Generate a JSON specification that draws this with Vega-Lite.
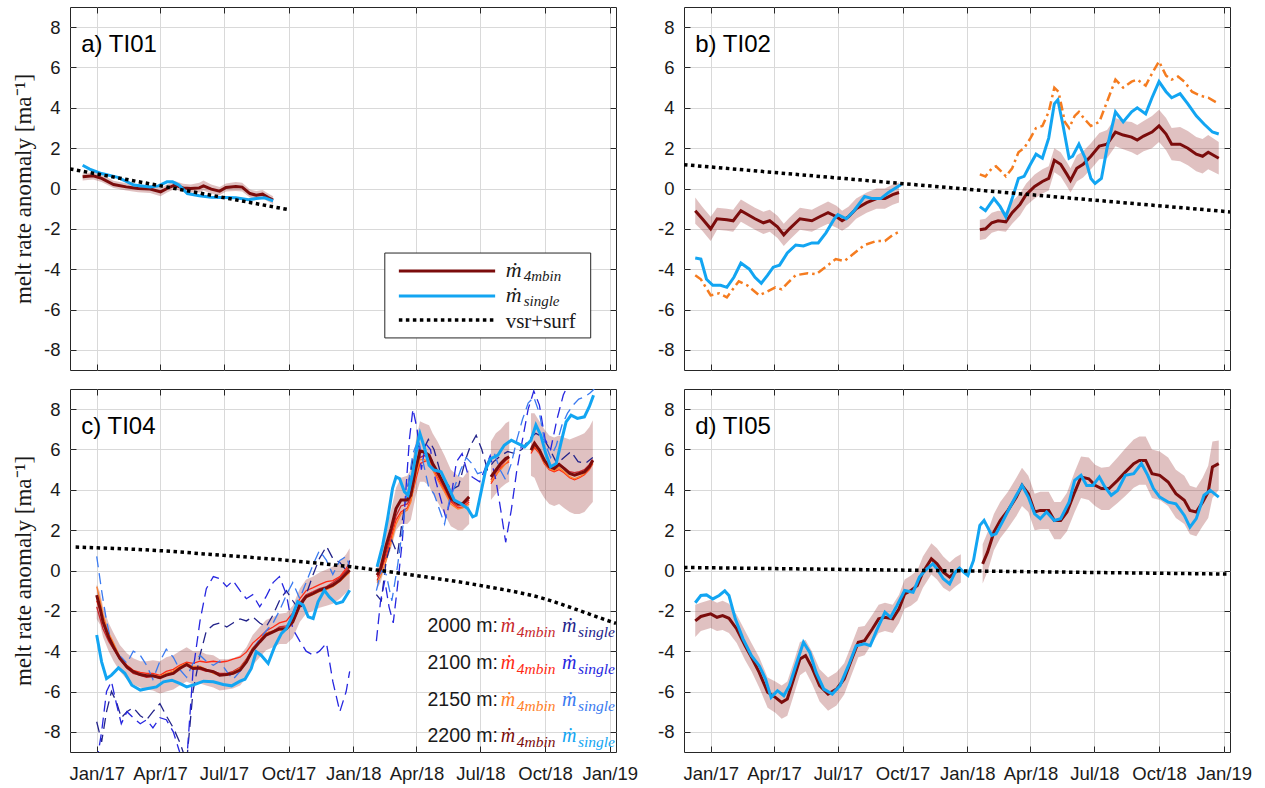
{
"$schema":"https://vega.github.io/schema/vega-lite/v6.json",
"background":"white",
"padding":{"left":12,"top":6,"right":5,"bottom":5},
"autosize":{"type":"pad"},
"config":{"view":{"stroke":"#262626","strokeWidth":1},
"axis":{"gridColor":"#d9d9d9","gridWidth":1,"tickColor":"#262626","labelFont":"Liberation Sans","labelFontSize":18.5,"labelColor":"#1a1a1a","titleColor":"#1a1a1a"}},
"datasets":{
"vsr":[{"p":"a","day":-38,"v":0.97},{"p":"a","day":273,"v":-1.05},{"p":"b","day":-38,"v":1.18},{"p":"b","day":739,"v":-1.16},
{"p":"c","day":-30,"v":1.16},{"p":"c","day":87,"v":0.99},{"p":"c","day":180,"v":0.75},{"p":"c","day":273,"v":0.5},{"p":"c","day":365,"v":0.17},{"p":"c","day":455,"v":-0.25},{"p":"c","day":547,"v":-0.75},{"p":"c","day":638,"v":-1.41},{"p":"c","day":680,"v":-1.9},{"p":"c","day":727,"v":-2.48},{"p":"c","day":739,"v":-2.62},
{"p":"d","day":-38,"v":0.15},{"p":"d","day":739,"v":-0.18}],
"leg":[{"s":"4mbin","v":-4.09,"tv":-4.39,"t":"4mbin"},{"s":"single","v":-5.33,"tv":-5.63,"t":"single"}],
"ann":[{"t":"2000 m:","v":-3.05},{"t":"2100 m:","v":-4.88},{"t":"2150 m:","v":-6.7},{"t":"2200 m:","v":-8.48}],
"anns":[{"s":"t2000","day":575,"v":-3.05,"t":"4mbin"},{"s":"d2000","day":662,"v":-3.05,"t":"single"},
{"s":"t2100","day":575,"v":-4.88,"t":"4mbin"},{"s":"d2100","day":662,"v":-4.88,"t":"single"},
{"s":"t2150","day":575,"v":-6.7,"t":"4mbin"},{"s":"d2150","day":662,"v":-6.7,"t":"single"},
{"s":"4mbin","day":575,"v":-8.48,"t":"4mbin"},{"s":"single","day":662,"v":-8.48,"t":"single"}],
"labels":[{"p":"a","t":"a) TI01"},{"p":"b","t":"b) TI02"},{"p":"c","t":"c) TI04"},{"p":"d","t":"d) TI05"}],
"bands":[
{"p":"a","g":1,"day":-20,"lo":0.4,"hi":0.75},{"p":"a","g":1,"day":-5,"lo":0.45,"hi":0.8},{"p":"a","g":1,"day":7,"lo":0.32,"hi":0.68},{"p":"a","g":1,"day":24,"lo":0.02,"hi":0.38},{"p":"a","g":1,"day":42,"lo":-0.1,"hi":0.26},{"p":"a","g":1,"day":59,"lo":-0.18,"hi":0.18},{"p":"a","g":1,"day":76,"lo":-0.22,"hi":0.16},{"p":"a","g":1,"day":91,"lo":-0.38,"hi":0.04},{"p":"a","g":1,"day":100,"lo":-0.2,"hi":0.2},{"p":"a","g":1,"day":111,"lo":-0.03,"hi":0.37},{"p":"a","g":1,"day":123,"lo":-0.17,"hi":0.23},{"p":"a","g":1,"day":134,"lo":-0.2,"hi":0.2},{"p":"a","g":1,"day":146,"lo":-0.2,"hi":0.28},{"p":"a","g":1,"day":152,"lo":-0.1,"hi":0.4},{"p":"a","g":1,"day":163,"lo":-0.25,"hi":0.2},{"p":"a","g":1,"day":175,"lo":-0.33,"hi":0.07},{"p":"a","g":1,"day":184,"lo":-0.15,"hi":0.25},{"p":"a","g":1,"day":198,"lo":-0.12,"hi":0.32},{"p":"a","g":1,"day":207,"lo":-0.15,"hi":0.29},{"p":"a","g":1,"day":218,"lo":-0.45,"hi":-0.05},{"p":"a","g":1,"day":227,"lo":-0.53,"hi":-0.13},{"p":"a","g":1,"day":236,"lo":-0.48,"hi":-0.08},{"p":"a","g":1,"day":244,"lo":-0.65,"hi":-0.25},{"p":"a","g":1,"day":251,"lo":-0.78,"hi":-0.38},
{"p":"b","g":1,"day":-22,"lo":-1.75,"hi":-0.45},{"p":"b","g":1,"day":-12,"lo":-2.1,"hi":-0.9},{"p":"b","g":1,"day":0,"lo":-2.6,"hi":-1.4},{"p":"b","g":1,"day":9,"lo":-2.05,"hi":-0.95},{"p":"b","g":1,"day":23,"lo":-2.1,"hi":-1.0},{"p":"b","g":1,"day":32,"lo":-2.15,"hi":-1.05},{"p":"b","g":1,"day":43,"lo":-1.65,"hi":-0.55},{"p":"b","g":1,"day":63,"lo":-2.05,"hi":-0.95},{"p":"b","g":1,"day":75,"lo":-2.25,"hi":-1.15},{"p":"b","g":1,"day":84,"lo":-2.15,"hi":-1.05},{"p":"b","g":1,"day":95,"lo":-2.45,"hi":-1.35},{"p":"b","g":1,"day":104,"lo":-2.85,"hi":-1.75},{"p":"b","g":1,"day":112,"lo":-2.55,"hi":-1.45},{"p":"b","g":1,"day":127,"lo":-2.05,"hi":-0.95},{"p":"b","g":1,"day":144,"lo":-2.15,"hi":-1.05},{"p":"b","g":1,"day":155,"lo":-1.95,"hi":-0.85},{"p":"b","g":1,"day":167,"lo":-1.75,"hi":-0.65},{"p":"b","g":1,"day":179,"lo":-1.95,"hi":-0.85},{"p":"b","g":1,"day":187,"lo":-2.1,"hi":-1.1},{"p":"b","g":1,"day":196,"lo":-1.9,"hi":-0.9},{"p":"b","g":1,"day":207,"lo":-1.5,"hi":-0.5},{"p":"b","g":1,"day":222,"lo":-1.2,"hi":-0.2},{"p":"b","g":1,"day":236,"lo":-1.0,"hi":0.0},{"p":"b","g":1,"day":248,"lo":-1.0,"hi":0.0},{"p":"b","g":1,"day":259,"lo":-0.8,"hi":0.2},{"p":"b","g":1,"day":268,"lo":-0.7,"hi":0.3},
{"p":"b","g":2,"day":383,"lo":-2.55,"hi":-1.55},{"p":"b","g":2,"day":391,"lo":-2.5,"hi":-1.5},{"p":"b","g":2,"day":400,"lo":-2.2,"hi":-1.2},{"p":"b","g":2,"day":409,"lo":-2.1,"hi":-1.1},{"p":"b","g":2,"day":420,"lo":-2.15,"hi":-1.15},{"p":"b","g":2,"day":429,"lo":-1.75,"hi":-0.65},{"p":"b","g":2,"day":440,"lo":-1.35,"hi":-0.25},{"p":"b","g":2,"day":449,"lo":-0.85,"hi":0.25},{"p":"b","g":2,"day":461,"lo":-0.5,"hi":0.7},{"p":"b","g":2,"day":472,"lo":-0.25,"hi":0.95},{"p":"b","g":2,"day":481,"lo":-0.1,"hi":1.1},{"p":"b","g":2,"day":489,"lo":0.8,"hi":2.0},{"p":"b","g":2,"day":498,"lo":0.6,"hi":1.8},{"p":"b","g":2,"day":507,"lo":0.1,"hi":1.3},{"p":"b","g":2,"day":512,"lo":-0.2,"hi":1.0},{"p":"b","g":2,"day":521,"lo":0.35,"hi":1.65},{"p":"b","g":2,"day":530,"lo":0.55,"hi":1.85},{"p":"b","g":2,"day":541,"lo":0.95,"hi":2.25},{"p":"b","g":2,"day":553,"lo":1.45,"hi":2.75},{"p":"b","g":2,"day":564,"lo":1.5,"hi":2.9},{"p":"b","g":2,"day":576,"lo":2.1,"hi":3.5},{"p":"b","g":2,"day":587,"lo":1.95,"hi":3.35},{"p":"b","g":2,"day":599,"lo":1.8,"hi":3.3},{"p":"b","g":2,"day":607,"lo":1.65,"hi":3.15},{"p":"b","g":2,"day":616,"lo":1.85,"hi":3.35},{"p":"b","g":2,"day":628,"lo":2.0,"hi":3.6},{"p":"b","g":2,"day":638,"lo":2.3,"hi":3.9},{"p":"b","g":2,"day":648,"lo":1.9,"hi":3.5},{"p":"b","g":2,"day":656,"lo":1.4,"hi":3.0},{"p":"b","g":2,"day":668,"lo":1.35,"hi":3.05},{"p":"b","g":2,"day":679,"lo":1.15,"hi":2.85},{"p":"b","g":2,"day":691,"lo":0.85,"hi":2.55},{"p":"b","g":2,"day":700,"lo":0.75,"hi":2.45},{"p":"b","g":2,"day":708,"lo":0.95,"hi":2.65},{"p":"b","g":2,"day":723,"lo":0.7,"hi":2.3},
{"p":"c","g":1,"day":0,"lo":-2.4,"hi":-0.7},{"p":"c","g":1,"day":5,"lo":-2.7,"hi":-1.1},{"p":"c","g":1,"day":9,"lo":-3.3,"hi":-1.8},{"p":"c","g":1,"day":17,"lo":-4.0,"hi":-2.6},{"p":"c","g":1,"day":24,"lo":-4.5,"hi":-3.1},{"p":"c","g":1,"day":33,"lo":-5.0,"hi":-3.7},{"p":"c","g":1,"day":43,"lo":-5.4,"hi":-4.1},{"p":"c","g":1,"day":52,"lo":-5.65,"hi":-4.35},{"p":"c","g":1,"day":62,"lo":-5.8,"hi":-4.5},{"p":"c","g":1,"day":71,"lo":-5.9,"hi":-4.5},{"p":"c","g":1,"day":80,"lo":-5.95,"hi":-4.45},{"p":"c","g":1,"day":90,"lo":-6.1,"hi":-4.5},{"p":"c","g":1,"day":99,"lo":-6.0,"hi":-4.3},{"p":"c","g":1,"day":109,"lo":-5.9,"hi":-4.2},{"p":"c","g":1,"day":118,"lo":-5.7,"hi":-4.0},{"p":"c","g":1,"day":128,"lo":-5.5,"hi":-3.8},{"p":"c","g":1,"day":137,"lo":-5.65,"hi":-4.0},{"p":"c","g":1,"day":147,"lo":-5.6,"hi":-4.0},{"p":"c","g":1,"day":156,"lo":-5.7,"hi":-4.15},{"p":"c","g":1,"day":166,"lo":-5.8,"hi":-4.2},{"p":"c","g":1,"day":175,"lo":-5.95,"hi":-4.4},{"p":"c","g":1,"day":185,"lo":-5.9,"hi":-4.4},{"p":"c","g":1,"day":194,"lo":-5.85,"hi":-4.35},{"p":"c","g":1,"day":204,"lo":-5.7,"hi":-4.2},{"p":"c","g":1,"day":213,"lo":-5.3,"hi":-3.8},{"p":"c","g":1,"day":222,"lo":-4.7,"hi":-3.2},{"p":"c","g":1,"day":232,"lo":-4.3,"hi":-2.8},{"p":"c","g":1,"day":241,"lo":-3.95,"hi":-2.45},{"p":"c","g":1,"day":251,"lo":-3.8,"hi":-2.3},{"p":"c","g":1,"day":260,"lo":-3.65,"hi":-2.15},{"p":"c","g":1,"day":270,"lo":-3.65,"hi":-2.1},{"p":"c","g":1,"day":279,"lo":-3.35,"hi":-1.75},{"p":"c","g":1,"day":289,"lo":-2.55,"hi":-0.9},{"p":"c","g":1,"day":298,"lo":-2.15,"hi":-0.45},{"p":"c","g":1,"day":308,"lo":-2.0,"hi":-0.3},{"p":"c","g":1,"day":317,"lo":-1.85,"hi":-0.1},{"p":"c","g":1,"day":327,"lo":-1.75,"hi":0.05},{"p":"c","g":1,"day":336,"lo":-1.65,"hi":0.2},{"p":"c","g":1,"day":346,"lo":-1.4,"hi":0.45},{"p":"c","g":1,"day":355,"lo":-1.1,"hi":0.8},{"p":"c","g":1,"day":360,"lo":-0.9,"hi":1.1},
{"p":"c","g":2,"day":399,"lo":-0.9,"hi":0.45},{"p":"c","g":2,"day":404,"lo":-0.6,"hi":0.8},{"p":"c","g":2,"day":412,"lo":0.4,"hi":2.1},{"p":"c","g":2,"day":419,"lo":1.1,"hi":3.0},{"p":"c","g":2,"day":426,"lo":2.0,"hi":4.1},{"p":"c","g":2,"day":433,"lo":2.3,"hi":4.6},{"p":"c","g":2,"day":442,"lo":2.3,"hi":4.7},{"p":"c","g":2,"day":447,"lo":2.5,"hi":5.0},{"p":"c","g":2,"day":454,"lo":3.7,"hi":6.4},{"p":"c","g":2,"day":460,"lo":4.4,"hi":7.4},{"p":"c","g":2,"day":466,"lo":4.4,"hi":7.3},{"p":"c","g":2,"day":473,"lo":4.2,"hi":7.2},{"p":"c","g":2,"day":478,"lo":3.8,"hi":6.8},{"p":"c","g":2,"day":485,"lo":3.4,"hi":6.4},{"p":"c","g":2,"day":495,"lo":2.8,"hi":5.7},{"p":"c","g":2,"day":504,"lo":2.2,"hi":5.0},{"p":"c","g":2,"day":514,"lo":2.0,"hi":4.7},{"p":"c","g":2,"day":521,"lo":2.0,"hi":4.6},{"p":"c","g":2,"day":530,"lo":2.3,"hi":5.0},
{"p":"c","g":3,"day":561,"lo":3.5,"hi":6.4},{"p":"c","g":3,"day":568,"lo":3.8,"hi":6.8},{"p":"c","g":3,"day":575,"lo":4.1,"hi":7.0},{"p":"c","g":3,"day":582,"lo":4.3,"hi":7.3},{"p":"c","g":3,"day":587,"lo":4.4,"hi":7.4},
{"p":"c","g":4,"day":618,"lo":4.7,"hi":7.8},{"p":"c","g":4,"day":623,"lo":4.6,"hi":7.8},{"p":"c","g":4,"day":630,"lo":4.0,"hi":7.4},{"p":"c","g":4,"day":637,"lo":3.6,"hi":7.0},{"p":"c","g":4,"day":644,"lo":3.3,"hi":6.7},{"p":"c","g":4,"day":651,"lo":3.2,"hi":6.6},{"p":"c","g":4,"day":658,"lo":3.3,"hi":6.7},{"p":"c","g":4,"day":665,"lo":3.1,"hi":6.6},{"p":"c","g":4,"day":673,"lo":2.9,"hi":6.5},{"p":"c","g":4,"day":680,"lo":2.8,"hi":6.6},{"p":"c","g":4,"day":687,"lo":2.8,"hi":6.7},{"p":"c","g":4,"day":694,"lo":2.9,"hi":6.8},{"p":"c","g":4,"day":701,"lo":3.2,"hi":7.1},{"p":"c","g":4,"day":706,"lo":3.4,"hi":7.45},
{"p":"d","g":1,"day":-22,"lo":-3.3,"hi":-1.7},{"p":"d","g":1,"day":-14,"lo":-3.0,"hi":-1.6},{"p":"d","g":1,"day":0,"lo":-2.85,"hi":-1.45},{"p":"d","g":1,"day":9,"lo":-3.0,"hi":-1.6},{"p":"d","g":1,"day":17,"lo":-2.95,"hi":-1.5},{"p":"d","g":1,"day":26,"lo":-3.1,"hi":-1.65},{"p":"d","g":1,"day":37,"lo":-3.6,"hi":-2.2},{"p":"d","g":1,"day":49,"lo":-4.45,"hi":-3.0},{"p":"d","g":1,"day":58,"lo":-5.0,"hi":-3.6},{"p":"d","g":1,"day":69,"lo":-5.8,"hi":-4.3},{"p":"d","g":1,"day":81,"lo":-6.8,"hi":-5.3},{"p":"d","g":1,"day":92,"lo":-7.05,"hi":-5.5},{"p":"d","g":1,"day":101,"lo":-7.35,"hi":-5.7},{"p":"d","g":1,"day":109,"lo":-7.2,"hi":-5.5},{"p":"d","g":1,"day":118,"lo":-6.2,"hi":-4.55},{"p":"d","g":1,"day":127,"lo":-5.2,"hi":-3.55},{"p":"d","g":1,"day":135,"lo":-5.0,"hi":-3.45},{"p":"d","g":1,"day":144,"lo":-5.6,"hi":-4.0},{"p":"d","g":1,"day":155,"lo":-6.5,"hi":-4.9},{"p":"d","g":1,"day":167,"lo":-6.95,"hi":-5.3},{"p":"d","g":1,"day":179,"lo":-6.7,"hi":-5.05},{"p":"d","g":1,"day":190,"lo":-6.15,"hi":-4.6},{"p":"d","g":1,"day":199,"lo":-5.3,"hi":-3.8},{"p":"d","g":1,"day":210,"lo":-4.3,"hi":-2.8},{"p":"d","g":1,"day":219,"lo":-4.2,"hi":-2.75},{"p":"d","g":1,"day":230,"lo":-3.6,"hi":-2.2},{"p":"d","g":1,"day":239,"lo":-3.1,"hi":-1.7},{"p":"d","g":1,"day":248,"lo":-3.0,"hi":-1.6},{"p":"d","g":1,"day":259,"lo":-3.1,"hi":-1.7},{"p":"d","g":1,"day":268,"lo":-2.6,"hi":-1.2},{"p":"d","g":1,"day":276,"lo":-1.9,"hi":-0.45},{"p":"d","g":1,"day":285,"lo":-1.75,"hi":-0.25},{"p":"d","g":1,"day":294,"lo":-1.5,"hi":0.0},{"p":"d","g":1,"day":302,"lo":-0.85,"hi":0.7},{"p":"d","g":1,"day":314,"lo":-0.2,"hi":1.35},{"p":"d","g":1,"day":322,"lo":-0.45,"hi":1.1},{"p":"d","g":1,"day":331,"lo":-0.85,"hi":0.7},{"p":"d","g":1,"day":340,"lo":-1.05,"hi":0.4},{"p":"d","g":1,"day":348,"lo":-0.8,"hi":0.65},{"p":"d","g":1,"day":356,"lo":-0.6,"hi":0.8},
{"p":"d","g":2,"day":387,"lo":-0.65,"hi":1.3},{"p":"d","g":2,"day":394,"lo":-0.05,"hi":1.9},{"p":"d","g":2,"day":403,"lo":1.0,"hi":2.8},{"p":"d","g":2,"day":412,"lo":1.6,"hi":3.4},{"p":"d","g":2,"day":423,"lo":2.1,"hi":3.9},{"p":"d","g":2,"day":435,"lo":2.7,"hi":4.6},{"p":"d","g":2,"day":443,"lo":3.2,"hi":5.1},{"p":"d","g":2,"day":452,"lo":2.9,"hi":4.7},{"p":"d","g":2,"day":461,"lo":2.0,"hi":3.8},{"p":"d","g":2,"day":469,"lo":2.05,"hi":3.9},{"p":"d","g":2,"day":481,"lo":2.05,"hi":3.9},{"p":"d","g":2,"day":489,"lo":1.55,"hi":3.4},{"p":"d","g":2,"day":498,"lo":1.55,"hi":3.4},{"p":"d","g":2,"day":507,"lo":1.95,"hi":3.85},{"p":"d","g":2,"day":518,"lo":2.9,"hi":4.9},{"p":"d","g":2,"day":527,"lo":3.6,"hi":5.65},{"p":"d","g":2,"day":538,"lo":3.5,"hi":5.6},{"p":"d","g":2,"day":547,"lo":3.2,"hi":5.25},{"p":"d","g":2,"day":556,"lo":3.0,"hi":5.1},{"p":"d","g":2,"day":567,"lo":3.0,"hi":5.15},{"p":"d","g":2,"day":579,"lo":3.35,"hi":5.6},{"p":"d","g":2,"day":590,"lo":3.7,"hi":6.05},{"p":"d","g":2,"day":602,"lo":4.1,"hi":6.5},{"p":"d","g":2,"day":610,"lo":4.25,"hi":6.65},{"p":"d","g":2,"day":619,"lo":4.25,"hi":6.65},{"p":"d","g":2,"day":628,"lo":3.6,"hi":6.0},{"p":"d","g":2,"day":639,"lo":3.5,"hi":5.9},{"p":"d","g":2,"day":651,"lo":3.2,"hi":5.6},{"p":"d","g":2,"day":662,"lo":2.6,"hi":5.0},{"p":"d","g":2,"day":674,"lo":2.3,"hi":4.7},{"p":"d","g":2,"day":682,"lo":1.8,"hi":4.2},{"p":"d","g":2,"day":691,"lo":1.7,"hi":4.1},{"p":"d","g":2,"day":700,"lo":2.2,"hi":4.6},{"p":"d","g":2,"day":708,"lo":2.6,"hi":5.2},{"p":"d","g":2,"day":714,"lo":3.6,"hi":6.4},{"p":"d","g":2,"day":723,"lo":4.0,"hi":6.45}
],
"lines":[
{"p":"c","s":"t2000","g":1,"day":0,"v":-1.8},{"p":"c","s":"t2000","g":1,"day":9,"v":-2.9},{"p":"c","s":"t2000","g":1,"day":17,"v":-3.5},{"p":"c","s":"t2000","g":1,"day":24,"v":-3.9},{"p":"c","s":"t2000","g":1,"day":33,"v":-4.4},{"p":"c","s":"t2000","g":1,"day":43,"v":-4.85},{"p":"c","s":"t2000","g":1,"day":52,"v":-5.1},{"p":"c","s":"t2000","g":1,"day":62,"v":-5.2},{"p":"c","s":"t2000","g":1,"day":71,"v":-5.3},{"p":"c","s":"t2000","g":1,"day":80,"v":-5.25},{"p":"c","s":"t2000","g":1,"day":90,"v":-5.35},{"p":"c","s":"t2000","g":1,"day":99,"v":-5.15},{"p":"c","s":"t2000","g":1,"day":109,"v":-5.0},{"p":"c","s":"t2000","g":1,"day":118,"v":-4.8},{"p":"c","s":"t2000","g":1,"day":128,"v":-4.7},{"p":"c","s":"t2000","g":1,"day":137,"v":-4.8},{"p":"c","s":"t2000","g":1,"day":147,"v":-4.9},{"p":"c","s":"t2000","g":1,"day":156,"v":-5.0},{"p":"c","s":"t2000","g":1,"day":166,"v":-5.0},{"p":"c","s":"t2000","g":1,"day":175,"v":-5.1},{"p":"c","s":"t2000","g":1,"day":185,"v":-5.1},{"p":"c","s":"t2000","g":1,"day":194,"v":-5.0},{"p":"c","s":"t2000","g":1,"day":204,"v":-4.8},{"p":"c","s":"t2000","g":1,"day":213,"v":-4.4},{"p":"c","s":"t2000","g":1,"day":222,"v":-3.85},{"p":"c","s":"t2000","g":1,"day":232,"v":-3.45},{"p":"c","s":"t2000","g":1,"day":241,"v":-3.1},{"p":"c","s":"t2000","g":1,"day":251,"v":-3.0},{"p":"c","s":"t2000","g":1,"day":260,"v":-2.8},{"p":"c","s":"t2000","g":1,"day":270,"v":-2.75},{"p":"c","s":"t2000","g":1,"day":279,"v":-2.4},{"p":"c","s":"t2000","g":1,"day":289,"v":-1.6},{"p":"c","s":"t2000","g":1,"day":298,"v":-1.2},{"p":"c","s":"t2000","g":1,"day":308,"v":-1.05},{"p":"c","s":"t2000","g":1,"day":317,"v":-0.9},{"p":"c","s":"t2000","g":1,"day":327,"v":-0.8},{"p":"c","s":"t2000","g":1,"day":336,"v":-0.6},{"p":"c","s":"t2000","g":1,"day":346,"v":-0.35},{"p":"c","s":"t2000","g":1,"day":355,"v":0.0},{"p":"c","s":"t2000","g":1,"day":360,"v":0.2},
{"p":"c","s":"t2000","g":2,"day":399,"v":-0.5},{"p":"c","s":"t2000","g":2,"day":404,"v":-0.1},{"p":"c","s":"t2000","g":2,"day":412,"v":0.9},{"p":"c","s":"t2000","g":2,"day":419,"v":1.8},{"p":"c","s":"t2000","g":2,"day":426,"v":2.7},{"p":"c","s":"t2000","g":2,"day":433,"v":3.2},{"p":"c","s":"t2000","g":2,"day":442,"v":3.3},{"p":"c","s":"t2000","g":2,"day":447,"v":3.6},{"p":"c","s":"t2000","g":2,"day":454,"v":4.8},{"p":"c","s":"t2000","g":2,"day":460,"v":5.6},{"p":"c","s":"t2000","g":2,"day":466,"v":5.7},{"p":"c","s":"t2000","g":2,"day":473,"v":5.6},{"p":"c","s":"t2000","g":2,"day":478,"v":5.2},{"p":"c","s":"t2000","g":2,"day":485,"v":4.75},{"p":"c","s":"t2000","g":2,"day":495,"v":4.05},{"p":"c","s":"t2000","g":2,"day":504,"v":3.45},{"p":"c","s":"t2000","g":2,"day":514,"v":3.2},{"p":"c","s":"t2000","g":2,"day":521,"v":3.25},{"p":"c","s":"t2000","g":2,"day":530,"v":3.5},
{"p":"c","s":"t2000","g":3,"day":561,"v":4.5},{"p":"c","s":"t2000","g":3,"day":568,"v":4.85},{"p":"c","s":"t2000","g":3,"day":575,"v":5.2},{"p":"c","s":"t2000","g":3,"day":582,"v":5.45},{"p":"c","s":"t2000","g":3,"day":587,"v":5.6},
{"p":"c","s":"t2000","g":4,"day":618,"v":6.1},{"p":"c","s":"t2000","g":4,"day":623,"v":6.4},{"p":"c","s":"t2000","g":4,"day":630,"v":6.0},{"p":"c","s":"t2000","g":4,"day":637,"v":5.5},{"p":"c","s":"t2000","g":4,"day":644,"v":5.2},{"p":"c","s":"t2000","g":4,"day":651,"v":5.1},{"p":"c","s":"t2000","g":4,"day":658,"v":5.3},{"p":"c","s":"t2000","g":4,"day":665,"v":5.1},{"p":"c","s":"t2000","g":4,"day":673,"v":4.9},{"p":"c","s":"t2000","g":4,"day":680,"v":4.85},{"p":"c","s":"t2000","g":4,"day":687,"v":4.9},{"p":"c","s":"t2000","g":4,"day":694,"v":5.0},{"p":"c","s":"t2000","g":4,"day":701,"v":5.25},{"p":"c","s":"t2000","g":4,"day":706,"v":5.5},
{"p":"c","s":"t2100","g":1,"day":0,"v":-1.5},{"p":"c","s":"t2100","g":1,"day":9,"v":-2.4},{"p":"c","s":"t2100","g":1,"day":17,"v":-3.2},{"p":"c","s":"t2100","g":1,"day":24,"v":-3.7},{"p":"c","s":"t2100","g":1,"day":33,"v":-4.3},{"p":"c","s":"t2100","g":1,"day":43,"v":-4.7},{"p":"c","s":"t2100","g":1,"day":52,"v":-4.95},{"p":"c","s":"t2100","g":1,"day":62,"v":-5.05},{"p":"c","s":"t2100","g":1,"day":71,"v":-5.1},{"p":"c","s":"t2100","g":1,"day":80,"v":-5.1},{"p":"c","s":"t2100","g":1,"day":90,"v":-5.2},{"p":"c","s":"t2100","g":1,"day":99,"v":-5.0},{"p":"c","s":"t2100","g":1,"day":109,"v":-4.9},{"p":"c","s":"t2100","g":1,"day":118,"v":-4.7},{"p":"c","s":"t2100","g":1,"day":128,"v":-4.55},{"p":"c","s":"t2100","g":1,"day":137,"v":-4.6},{"p":"c","s":"t2100","g":1,"day":147,"v":-4.5},{"p":"c","s":"t2100","g":1,"day":156,"v":-4.55},{"p":"c","s":"t2100","g":1,"day":166,"v":-4.5},{"p":"c","s":"t2100","g":1,"day":175,"v":-4.55},{"p":"c","s":"t2100","g":1,"day":185,"v":-4.5},{"p":"c","s":"t2100","g":1,"day":194,"v":-4.4},{"p":"c","s":"t2100","g":1,"day":204,"v":-4.3},{"p":"c","s":"t2100","g":1,"day":213,"v":-4.05},{"p":"c","s":"t2100","g":1,"day":222,"v":-3.6},{"p":"c","s":"t2100","g":1,"day":232,"v":-3.3},{"p":"c","s":"t2100","g":1,"day":241,"v":-3.0},{"p":"c","s":"t2100","g":1,"day":251,"v":-2.8},{"p":"c","s":"t2100","g":1,"day":260,"v":-2.6},{"p":"c","s":"t2100","g":1,"day":270,"v":-2.5},{"p":"c","s":"t2100","g":1,"day":279,"v":-2.1},{"p":"c","s":"t2100","g":1,"day":289,"v":-1.4},{"p":"c","s":"t2100","g":1,"day":298,"v":-1.0},{"p":"c","s":"t2100","g":1,"day":308,"v":-0.85},{"p":"c","s":"t2100","g":1,"day":317,"v":-0.7},{"p":"c","s":"t2100","g":1,"day":327,"v":-0.55},{"p":"c","s":"t2100","g":1,"day":336,"v":-0.5},{"p":"c","s":"t2100","g":1,"day":346,"v":-0.3},{"p":"c","s":"t2100","g":1,"day":355,"v":0.1},{"p":"c","s":"t2100","g":1,"day":360,"v":0.4},
{"p":"c","s":"t2100","g":2,"day":399,"v":-0.3},{"p":"c","s":"t2100","g":2,"day":404,"v":0.0},{"p":"c","s":"t2100","g":2,"day":412,"v":0.7},{"p":"c","s":"t2100","g":2,"day":419,"v":1.6},{"p":"c","s":"t2100","g":2,"day":426,"v":2.5},{"p":"c","s":"t2100","g":2,"day":433,"v":2.9},{"p":"c","s":"t2100","g":2,"day":442,"v":3.1},{"p":"c","s":"t2100","g":2,"day":447,"v":3.5},{"p":"c","s":"t2100","g":2,"day":454,"v":4.5},{"p":"c","s":"t2100","g":2,"day":460,"v":5.3},{"p":"c","s":"t2100","g":2,"day":466,"v":5.4},{"p":"c","s":"t2100","g":2,"day":473,"v":5.5},{"p":"c","s":"t2100","g":2,"day":478,"v":5.1},{"p":"c","s":"t2100","g":2,"day":485,"v":4.6},{"p":"c","s":"t2100","g":2,"day":495,"v":3.95},{"p":"c","s":"t2100","g":2,"day":504,"v":3.4},{"p":"c","s":"t2100","g":2,"day":514,"v":3.1},{"p":"c","s":"t2100","g":2,"day":521,"v":3.15},{"p":"c","s":"t2100","g":2,"day":530,"v":3.4},
{"p":"c","s":"t2100","g":3,"day":561,"v":4.3},{"p":"c","s":"t2100","g":3,"day":568,"v":4.7},{"p":"c","s":"t2100","g":3,"day":575,"v":5.1},{"p":"c","s":"t2100","g":3,"day":582,"v":5.3},{"p":"c","s":"t2100","g":3,"day":587,"v":5.4},
{"p":"c","s":"t2100","g":4,"day":618,"v":5.8},{"p":"c","s":"t2100","g":4,"day":623,"v":6.1},{"p":"c","s":"t2100","g":4,"day":630,"v":5.8},{"p":"c","s":"t2100","g":4,"day":637,"v":5.3},{"p":"c","s":"t2100","g":4,"day":644,"v":5.0},{"p":"c","s":"t2100","g":4,"day":651,"v":4.9},{"p":"c","s":"t2100","g":4,"day":658,"v":5.0},{"p":"c","s":"t2100","g":4,"day":665,"v":4.85},{"p":"c","s":"t2100","g":4,"day":673,"v":4.6},{"p":"c","s":"t2100","g":4,"day":680,"v":4.5},{"p":"c","s":"t2100","g":4,"day":687,"v":4.6},{"p":"c","s":"t2100","g":4,"day":694,"v":4.75},{"p":"c","s":"t2100","g":4,"day":701,"v":5.0},{"p":"c","s":"t2100","g":4,"day":706,"v":5.3},
{"p":"c","s":"t2150","g":1,"day":0,"v":-0.8},{"p":"c","s":"t2150","g":1,"day":5,"v":-1.5},{"p":"c","s":"t2150","g":1,"day":9,"v":-2.2},{"p":"c","s":"t2150","g":1,"day":17,"v":-3.1},{"p":"c","s":"t2150","g":1,"day":24,"v":-3.6},{"p":"c","s":"t2150","g":1,"day":33,"v":-4.3},{"p":"c","s":"t2150","g":1,"day":43,"v":-4.75},{"p":"c","s":"t2150","g":1,"day":52,"v":-5.0},{"p":"c","s":"t2150","g":1,"day":62,"v":-5.15},{"p":"c","s":"t2150","g":1,"day":71,"v":-5.2},{"p":"c","s":"t2150","g":1,"day":80,"v":-5.2},{"p":"c","s":"t2150","g":1,"day":90,"v":-5.25},{"p":"c","s":"t2150","g":1,"day":99,"v":-5.1},{"p":"c","s":"t2150","g":1,"day":109,"v":-5.0},{"p":"c","s":"t2150","g":1,"day":118,"v":-4.75},{"p":"c","s":"t2150","g":1,"day":128,"v":-4.6},{"p":"c","s":"t2150","g":1,"day":137,"v":-4.75},{"p":"c","s":"t2150","g":1,"day":147,"v":-4.75},{"p":"c","s":"t2150","g":1,"day":156,"v":-4.9},{"p":"c","s":"t2150","g":1,"day":166,"v":-5.1},{"p":"c","s":"t2150","g":1,"day":175,"v":-5.2},{"p":"c","s":"t2150","g":1,"day":185,"v":-5.2},{"p":"c","s":"t2150","g":1,"day":194,"v":-5.05},{"p":"c","s":"t2150","g":1,"day":204,"v":-4.85},{"p":"c","s":"t2150","g":1,"day":213,"v":-4.45},{"p":"c","s":"t2150","g":1,"day":222,"v":-3.85},{"p":"c","s":"t2150","g":1,"day":232,"v":-3.5},{"p":"c","s":"t2150","g":1,"day":241,"v":-3.1},{"p":"c","s":"t2150","g":1,"day":251,"v":-3.0},{"p":"c","s":"t2150","g":1,"day":260,"v":-2.95},{"p":"c","s":"t2150","g":1,"day":270,"v":-2.95},{"p":"c","s":"t2150","g":1,"day":279,"v":-2.6},{"p":"c","s":"t2150","g":1,"day":289,"v":-1.8},{"p":"c","s":"t2150","g":1,"day":298,"v":-1.35},{"p":"c","s":"t2150","g":1,"day":308,"v":-1.2},{"p":"c","s":"t2150","g":1,"day":317,"v":-1.05},{"p":"c","s":"t2150","g":1,"day":327,"v":-0.95},{"p":"c","s":"t2150","g":1,"day":336,"v":-0.8},{"p":"c","s":"t2150","g":1,"day":346,"v":-0.55},{"p":"c","s":"t2150","g":1,"day":355,"v":-0.25},{"p":"c","s":"t2150","g":1,"day":360,"v":-0.1},
{"p":"c","s":"t2150","g":2,"day":399,"v":-0.6},{"p":"c","s":"t2150","g":2,"day":404,"v":-0.3},{"p":"c","s":"t2150","g":2,"day":412,"v":0.5},{"p":"c","s":"t2150","g":2,"day":419,"v":1.4},{"p":"c","s":"t2150","g":2,"day":426,"v":2.3},{"p":"c","s":"t2150","g":2,"day":433,"v":2.8},{"p":"c","s":"t2150","g":2,"day":442,"v":3.0},{"p":"c","s":"t2150","g":2,"day":447,"v":3.4},{"p":"c","s":"t2150","g":2,"day":454,"v":4.7},{"p":"c","s":"t2150","g":2,"day":460,"v":5.5},{"p":"c","s":"t2150","g":2,"day":466,"v":5.5},{"p":"c","s":"t2150","g":2,"day":473,"v":5.4},{"p":"c","s":"t2150","g":2,"day":478,"v":5.0},{"p":"c","s":"t2150","g":2,"day":485,"v":4.5},{"p":"c","s":"t2150","g":2,"day":495,"v":3.9},{"p":"c","s":"t2150","g":2,"day":504,"v":3.3},{"p":"c","s":"t2150","g":2,"day":514,"v":3.05},{"p":"c","s":"t2150","g":2,"day":521,"v":3.1},{"p":"c","s":"t2150","g":2,"day":530,"v":3.3},
{"p":"c","s":"t2150","g":3,"day":561,"v":4.4},{"p":"c","s":"t2150","g":3,"day":568,"v":4.75},{"p":"c","s":"t2150","g":3,"day":575,"v":5.0},{"p":"c","s":"t2150","g":3,"day":582,"v":5.3},{"p":"c","s":"t2150","g":3,"day":587,"v":5.5},
{"p":"c","s":"t2150","g":4,"day":618,"v":5.9},{"p":"c","s":"t2150","g":4,"day":623,"v":6.2},{"p":"c","s":"t2150","g":4,"day":630,"v":5.85},{"p":"c","s":"t2150","g":4,"day":637,"v":5.35},{"p":"c","s":"t2150","g":4,"day":644,"v":5.05},{"p":"c","s":"t2150","g":4,"day":651,"v":4.95},{"p":"c","s":"t2150","g":4,"day":658,"v":5.1},{"p":"c","s":"t2150","g":4,"day":665,"v":4.9},{"p":"c","s":"t2150","g":4,"day":673,"v":4.65},{"p":"c","s":"t2150","g":4,"day":680,"v":4.55},{"p":"c","s":"t2150","g":4,"day":687,"v":4.65},{"p":"c","s":"t2150","g":4,"day":694,"v":4.8},{"p":"c","s":"t2150","g":4,"day":701,"v":5.05},{"p":"c","s":"t2150","g":4,"day":706,"v":5.35},
{"p":"c","s":"d2000","g":1,"day":0,"v":-7.5},{"p":"c","s":"d2000","g":1,"day":7,"v":-8.5},{"p":"c","s":"d2000","g":1,"day":14,"v":-7.0},{"p":"c","s":"d2000","g":1,"day":21,"v":-6.0},{"p":"c","s":"d2000","g":1,"day":28,"v":-6.5},{"p":"c","s":"d2000","g":1,"day":35,"v":-7.3},{"p":"c","s":"d2000","g":1,"day":43,"v":-7.0},{"p":"c","s":"d2000","g":1,"day":52,"v":-6.8},{"p":"c","s":"d2000","g":1,"day":62,"v":-7.2},{"p":"c","s":"d2000","g":1,"day":71,"v":-7.4},{"p":"c","s":"d2000","g":1,"day":80,"v":-7.0},{"p":"c","s":"d2000","g":1,"day":90,"v":-6.6},{"p":"c","s":"d2000","g":1,"day":99,"v":-7.2},{"p":"c","s":"d2000","g":1,"day":109,"v":-7.8},{"p":"c","s":"d2000","g":1,"day":118,"v":-8.5},{"p":"c","s":"d2000","g":1,"day":128,"v":-9.5},{"p":"c","s":"d2000","g":1,"day":137,"v":-6.0},{"p":"c","s":"d2000","g":1,"day":147,"v":-4.2},{"p":"c","s":"d2000","g":1,"day":156,"v":-3.0},{"p":"c","s":"d2000","g":1,"day":166,"v":-2.7},{"p":"c","s":"d2000","g":1,"day":175,"v":-2.6},{"p":"c","s":"d2000","g":1,"day":185,"v":-2.8},{"p":"c","s":"d2000","g":1,"day":194,"v":-2.6},{"p":"c","s":"d2000","g":1,"day":204,"v":-2.4},{"p":"c","s":"d2000","g":1,"day":213,"v":-2.5},{"p":"c","s":"d2000","g":1,"day":222,"v":-2.3},{"p":"c","s":"d2000","g":1,"day":232,"v":-2.6},{"p":"c","s":"d2000","g":1,"day":241,"v":-2.8},{"p":"c","s":"d2000","g":1,"day":251,"v":-2.2},{"p":"c","s":"d2000","g":1,"day":260,"v":-1.5},{"p":"c","s":"d2000","g":1,"day":270,"v":-1.0},{"p":"c","s":"d2000","g":1,"day":279,"v":-1.5},{"p":"c","s":"d2000","g":1,"day":289,"v":-2.0},{"p":"c","s":"d2000","g":1,"day":298,"v":-1.2},{"p":"c","s":"d2000","g":1,"day":308,"v":-0.2},{"p":"c","s":"d2000","g":1,"day":317,"v":0.6},{"p":"c","s":"d2000","g":1,"day":327,"v":1.2},{"p":"c","s":"d2000","g":1,"day":336,"v":0.6},{"p":"c","s":"d2000","g":1,"day":346,"v":0.4},{"p":"c","s":"d2000","g":1,"day":355,"v":0.0},{"p":"c","s":"d2000","g":1,"day":360,"v":0.5},
{"p":"c","s":"d2000","g":2,"day":398,"v":-1.2},{"p":"c","s":"d2000","g":2,"day":405,"v":-1.5},{"p":"c","s":"d2000","g":2,"day":412,"v":0.5},{"p":"c","s":"d2000","g":2,"day":420,"v":1.5},{"p":"c","s":"d2000","g":2,"day":428,"v":0.8},{"p":"c","s":"d2000","g":2,"day":435,"v":2.5},{"p":"c","s":"d2000","g":2,"day":442,"v":4.0},{"p":"c","s":"d2000","g":2,"day":450,"v":5.5},{"p":"c","s":"d2000","g":2,"day":457,"v":6.2},{"p":"c","s":"d2000","g":2,"day":465,"v":6.0},{"p":"c","s":"d2000","g":2,"day":472,"v":6.5},{"p":"c","s":"d2000","g":2,"day":480,"v":6.0},{"p":"c","s":"d2000","g":2,"day":488,"v":5.0},{"p":"c","s":"d2000","g":2,"day":495,"v":4.5},{"p":"c","s":"d2000","g":2,"day":505,"v":4.0},{"p":"c","s":"d2000","g":2,"day":515,"v":4.2},{"p":"c","s":"d2000","g":2,"day":525,"v":5.5},{"p":"c","s":"d2000","g":2,"day":532,"v":6.2},{"p":"c","s":"d2000","g":2,"day":540,"v":6.7},{"p":"c","s":"d2000","g":2,"day":548,"v":6.0},{"p":"c","s":"d2000","g":2,"day":556,"v":5.0},{"p":"c","s":"d2000","g":2,"day":565,"v":5.4},{"p":"c","s":"d2000","g":2,"day":575,"v":5.7},{"p":"c","s":"d2000","g":2,"day":585,"v":5.9},{"p":"c","s":"d2000","g":2,"day":595,"v":5.8},{"p":"c","s":"d2000","g":2,"day":605,"v":6.0},{"p":"c","s":"d2000","g":2,"day":615,"v":6.5},{"p":"c","s":"d2000","g":2,"day":625,"v":6.8},{"p":"c","s":"d2000","g":2,"day":635,"v":6.6},{"p":"c","s":"d2000","g":2,"day":645,"v":6.0},{"p":"c","s":"d2000","g":2,"day":655,"v":5.3},{"p":"c","s":"d2000","g":2,"day":665,"v":5.6},{"p":"c","s":"d2000","g":2,"day":675,"v":5.9},{"p":"c","s":"d2000","g":2,"day":685,"v":5.4},{"p":"c","s":"d2000","g":2,"day":695,"v":5.3},{"p":"c","s":"d2000","g":2,"day":706,"v":5.6},
{"p":"c","s":"d2100","g":1,"day":0,"v":-9.5},{"p":"c","s":"d2100","g":1,"day":7,"v":-8.0},{"p":"c","s":"d2100","g":1,"day":14,"v":-6.0},{"p":"c","s":"d2100","g":1,"day":21,"v":-5.5},{"p":"c","s":"d2100","g":1,"day":28,"v":-6.6},{"p":"c","s":"d2100","g":1,"day":35,"v":-7.6},{"p":"c","s":"d2100","g":1,"day":43,"v":-7.0},{"p":"c","s":"d2100","g":1,"day":52,"v":-7.3},{"p":"c","s":"d2100","g":1,"day":62,"v":-7.6},{"p":"c","s":"d2100","g":1,"day":71,"v":-7.4},{"p":"c","s":"d2100","g":1,"day":80,"v":-7.8},{"p":"c","s":"d2100","g":1,"day":90,"v":-7.3},{"p":"c","s":"d2100","g":1,"day":99,"v":-7.4},{"p":"c","s":"d2100","g":1,"day":109,"v":-8.0},{"p":"c","s":"d2100","g":1,"day":118,"v":-9.0},{"p":"c","s":"d2100","g":1,"day":128,"v":-9.5},{"p":"c","s":"d2100","g":1,"day":137,"v":-5.0},{"p":"c","s":"d2100","g":1,"day":147,"v":-2.5},{"p":"c","s":"d2100","g":1,"day":156,"v":-0.9},{"p":"c","s":"d2100","g":1,"day":166,"v":-0.3},{"p":"c","s":"d2100","g":1,"day":175,"v":-0.4},{"p":"c","s":"d2100","g":1,"day":185,"v":-0.8},{"p":"c","s":"d2100","g":1,"day":194,"v":-0.5},{"p":"c","s":"d2100","g":1,"day":204,"v":-1.0},{"p":"c","s":"d2100","g":1,"day":213,"v":-1.4},{"p":"c","s":"d2100","g":1,"day":222,"v":-1.2},{"p":"c","s":"d2100","g":1,"day":232,"v":-1.8},{"p":"c","s":"d2100","g":1,"day":241,"v":-1.3},{"p":"c","s":"d2100","g":1,"day":251,"v":-0.6},{"p":"c","s":"d2100","g":1,"day":260,"v":-0.3},{"p":"c","s":"d2100","g":1,"day":270,"v":-1.2},{"p":"c","s":"d2100","g":1,"day":279,"v":-2.9},{"p":"c","s":"d2100","g":1,"day":289,"v":-3.5},{"p":"c","s":"d2100","g":1,"day":298,"v":-4.0},{"p":"c","s":"d2100","g":1,"day":308,"v":-4.2},{"p":"c","s":"d2100","g":1,"day":317,"v":-4.0},{"p":"c","s":"d2100","g":1,"day":327,"v":-3.6},{"p":"c","s":"d2100","g":1,"day":336,"v":-5.5},{"p":"c","s":"d2100","g":1,"day":346,"v":-7.0},{"p":"c","s":"d2100","g":1,"day":355,"v":-6.0},{"p":"c","s":"d2100","g":1,"day":360,"v":-5.0},
{"p":"c","s":"d2100","g":2,"day":398,"v":-3.5},{"p":"c","s":"d2100","g":2,"day":404,"v":-1.5},{"p":"c","s":"d2100","g":2,"day":410,"v":-0.5},{"p":"c","s":"d2100","g":2,"day":416,"v":-1.8},{"p":"c","s":"d2100","g":2,"day":422,"v":-2.6},{"p":"c","s":"d2100","g":2,"day":428,"v":-0.8},{"p":"c","s":"d2100","g":2,"day":435,"v":1.5},{"p":"c","s":"d2100","g":2,"day":440,"v":4.0},{"p":"c","s":"d2100","g":2,"day":445,"v":6.5},{"p":"c","s":"d2100","g":2,"day":450,"v":8.0},{"p":"c","s":"d2100","g":2,"day":456,"v":7.0},{"p":"c","s":"d2100","g":2,"day":462,"v":5.0},{"p":"c","s":"d2100","g":2,"day":468,"v":6.3},{"p":"c","s":"d2100","g":2,"day":475,"v":6.0},{"p":"c","s":"d2100","g":2,"day":482,"v":4.5},{"p":"c","s":"d2100","g":2,"day":490,"v":3.5},{"p":"c","s":"d2100","g":2,"day":497,"v":2.6},{"p":"c","s":"d2100","g":2,"day":505,"v":3.8},{"p":"c","s":"d2100","g":2,"day":512,"v":5.4},{"p":"c","s":"d2100","g":2,"day":520,"v":5.8},{"p":"c","s":"d2100","g":2,"day":528,"v":4.8},{"p":"c","s":"d2100","g":2,"day":536,"v":4.6},{"p":"c","s":"d2100","g":2,"day":545,"v":4.4},{"p":"c","s":"d2100","g":2,"day":552,"v":5.0},{"p":"c","s":"d2100","g":2,"day":560,"v":5.7},{"p":"c","s":"d2100","g":2,"day":568,"v":4.5},{"p":"c","s":"d2100","g":2,"day":575,"v":3.0},{"p":"c","s":"d2100","g":2,"day":582,"v":1.4},{"p":"c","s":"d2100","g":2,"day":590,"v":3.0},{"p":"c","s":"d2100","g":2,"day":598,"v":5.0},{"p":"c","s":"d2100","g":2,"day":606,"v":6.5},{"p":"c","s":"d2100","g":2,"day":614,"v":8.0},{"p":"c","s":"d2100","g":2,"day":622,"v":8.9},{"p":"c","s":"d2100","g":2,"day":630,"v":8.2},{"p":"c","s":"d2100","g":2,"day":638,"v":6.5},{"p":"c","s":"d2100","g":2,"day":646,"v":6.0},{"p":"c","s":"d2100","g":2,"day":655,"v":7.5},{"p":"c","s":"d2100","g":2,"day":664,"v":8.7},{"p":"c","s":"d2100","g":2,"day":672,"v":9.3},{"p":"c","s":"d2100","g":2,"day":680,"v":9.6},
{"p":"c","s":"d2150","g":1,"day":0,"v":0.7},{"p":"c","s":"d2150","g":1,"day":7,"v":-1.0},{"p":"c","s":"d2150","g":1,"day":14,"v":-2.5},{"p":"c","s":"d2150","g":1,"day":21,"v":-3.6},{"p":"c","s":"d2150","g":1,"day":28,"v":-4.1},{"p":"c","s":"d2150","g":1,"day":35,"v":-4.3},{"p":"c","s":"d2150","g":1,"day":43,"v":-4.6},{"p":"c","s":"d2150","g":1,"day":52,"v":-4.0},{"p":"c","s":"d2150","g":1,"day":62,"v":-4.2},{"p":"c","s":"d2150","g":1,"day":71,"v":-4.7},{"p":"c","s":"d2150","g":1,"day":80,"v":-5.4},{"p":"c","s":"d2150","g":1,"day":90,"v":-4.5},{"p":"c","s":"d2150","g":1,"day":99,"v":-3.9},{"p":"c","s":"d2150","g":1,"day":109,"v":-4.3},{"p":"c","s":"d2150","g":1,"day":118,"v":-4.9},{"p":"c","s":"d2150","g":1,"day":128,"v":-5.3},{"p":"c","s":"d2150","g":1,"day":137,"v":-4.6},{"p":"c","s":"d2150","g":1,"day":147,"v":-4.2},{"p":"c","s":"d2150","g":1,"day":156,"v":-4.5},{"p":"c","s":"d2150","g":1,"day":166,"v":-4.7},{"p":"c","s":"d2150","g":1,"day":175,"v":-4.5},{"p":"c","s":"d2150","g":1,"day":185,"v":-5.0},{"p":"c","s":"d2150","g":1,"day":194,"v":-5.4},{"p":"c","s":"d2150","g":1,"day":204,"v":-5.0},{"p":"c","s":"d2150","g":1,"day":213,"v":-4.5},{"p":"c","s":"d2150","g":1,"day":222,"v":-3.9},{"p":"c","s":"d2150","g":1,"day":232,"v":-3.4},{"p":"c","s":"d2150","g":1,"day":241,"v":-3.0},{"p":"c","s":"d2150","g":1,"day":251,"v":-2.6},{"p":"c","s":"d2150","g":1,"day":260,"v":-2.0},{"p":"c","s":"d2150","g":1,"day":270,"v":-1.2},{"p":"c","s":"d2150","g":1,"day":279,"v":-0.6},{"p":"c","s":"d2150","g":1,"day":289,"v":-1.4},{"p":"c","s":"d2150","g":1,"day":298,"v":-0.6},{"p":"c","s":"d2150","g":1,"day":308,"v":0.3},{"p":"c","s":"d2150","g":1,"day":317,"v":1.0},{"p":"c","s":"d2150","g":1,"day":327,"v":0.5},{"p":"c","s":"d2150","g":1,"day":336,"v":-0.2},{"p":"c","s":"d2150","g":1,"day":346,"v":0.5},{"p":"c","s":"d2150","g":1,"day":355,"v":0.7},{"p":"c","s":"d2150","g":1,"day":360,"v":0.2},
{"p":"c","s":"d2150","g":2,"day":398,"v":-1.0},{"p":"c","s":"d2150","g":2,"day":405,"v":0.0},{"p":"c","s":"d2150","g":2,"day":412,"v":-0.2},{"p":"c","s":"d2150","g":2,"day":420,"v":-1.5},{"p":"c","s":"d2150","g":2,"day":428,"v":0.2},{"p":"c","s":"d2150","g":2,"day":435,"v":2.0},{"p":"c","s":"d2150","g":2,"day":442,"v":4.0},{"p":"c","s":"d2150","g":2,"day":450,"v":5.8},{"p":"c","s":"d2150","g":2,"day":458,"v":6.5},{"p":"c","s":"d2150","g":2,"day":465,"v":5.3},{"p":"c","s":"d2150","g":2,"day":472,"v":4.2},{"p":"c","s":"d2150","g":2,"day":480,"v":3.8},{"p":"c","s":"d2150","g":2,"day":488,"v":3.0},{"p":"c","s":"d2150","g":2,"day":495,"v":2.3},{"p":"c","s":"d2150","g":2,"day":502,"v":3.5},{"p":"c","s":"d2150","g":2,"day":510,"v":4.2},{"p":"c","s":"d2150","g":2,"day":518,"v":5.0},{"p":"c","s":"d2150","g":2,"day":526,"v":5.6},{"p":"c","s":"d2150","g":2,"day":534,"v":5.3},{"p":"c","s":"d2150","g":2,"day":542,"v":4.8},{"p":"c","s":"d2150","g":2,"day":550,"v":4.9},{"p":"c","s":"d2150","g":2,"day":558,"v":5.5},{"p":"c","s":"d2150","g":2,"day":566,"v":5.8},{"p":"c","s":"d2150","g":2,"day":574,"v":5.0},{"p":"c","s":"d2150","g":2,"day":582,"v":4.5},{"p":"c","s":"d2150","g":2,"day":590,"v":5.3},{"p":"c","s":"d2150","g":2,"day":598,"v":6.5},{"p":"c","s":"d2150","g":2,"day":606,"v":7.5},{"p":"c","s":"d2150","g":2,"day":614,"v":8.3},{"p":"c","s":"d2150","g":2,"day":622,"v":8.6},{"p":"c","s":"d2150","g":2,"day":630,"v":7.8},{"p":"c","s":"d2150","g":2,"day":638,"v":6.3},{"p":"c","s":"d2150","g":2,"day":646,"v":5.6},{"p":"c","s":"d2150","g":2,"day":654,"v":6.2},{"p":"c","s":"d2150","g":2,"day":662,"v":7.2},{"p":"c","s":"d2150","g":2,"day":670,"v":7.8},{"p":"c","s":"d2150","g":2,"day":678,"v":8.2},{"p":"c","s":"d2150","g":2,"day":686,"v":8.5},{"p":"c","s":"d2150","g":2,"day":694,"v":8.6},{"p":"c","s":"d2150","g":2,"day":702,"v":8.8},{"p":"c","s":"d2150","g":2,"day":708,"v":9.0},
{"p":"a","s":"4mbin","g":1,"day":-20,"v":0.58},{"p":"a","s":"4mbin","g":1,"day":-5,"v":0.63},{"p":"a","s":"4mbin","g":1,"day":7,"v":0.5},{"p":"a","s":"4mbin","g":1,"day":24,"v":0.2},{"p":"a","s":"4mbin","g":1,"day":42,"v":0.08},{"p":"a","s":"4mbin","g":1,"day":59,"v":0.0},{"p":"a","s":"4mbin","g":1,"day":76,"v":-0.03},{"p":"a","s":"4mbin","g":1,"day":91,"v":-0.17},{"p":"a","s":"4mbin","g":1,"day":100,"v":0.0},{"p":"a","s":"4mbin","g":1,"day":111,"v":0.17},{"p":"a","s":"4mbin","g":1,"day":123,"v":0.03},{"p":"a","s":"4mbin","g":1,"day":134,"v":0.0},{"p":"a","s":"4mbin","g":1,"day":146,"v":0.03},{"p":"a","s":"4mbin","g":1,"day":152,"v":0.13},{"p":"a","s":"4mbin","g":1,"day":163,"v":-0.03},{"p":"a","s":"4mbin","g":1,"day":175,"v":-0.13},{"p":"a","s":"4mbin","g":1,"day":184,"v":0.05},{"p":"a","s":"4mbin","g":1,"day":198,"v":0.1},{"p":"a","s":"4mbin","g":1,"day":207,"v":0.07},{"p":"a","s":"4mbin","g":1,"day":218,"v":-0.25},{"p":"a","s":"4mbin","g":1,"day":227,"v":-0.33},{"p":"a","s":"4mbin","g":1,"day":236,"v":-0.28},{"p":"a","s":"4mbin","g":1,"day":244,"v":-0.45},{"p":"a","s":"4mbin","g":1,"day":251,"v":-0.58},
{"p":"a","s":"single","g":1,"day":-20,"v":1.15},{"p":"a","s":"single","g":1,"day":-10,"v":0.96},{"p":"a","s":"single","g":1,"day":7,"v":0.74},{"p":"a","s":"single","g":1,"day":30,"v":0.55},{"p":"a","s":"single","g":1,"day":53,"v":0.17},{"p":"a","s":"single","g":1,"day":76,"v":0.07},{"p":"a","s":"single","g":1,"day":88,"v":0.13},{"p":"a","s":"single","g":1,"day":100,"v":0.33},{"p":"a","s":"single","g":1,"day":108,"v":0.33},{"p":"a","s":"single","g":1,"day":117,"v":0.17},{"p":"a","s":"single","g":1,"day":129,"v":-0.25},{"p":"a","s":"single","g":1,"day":146,"v":-0.36},{"p":"a","s":"single","g":1,"day":163,"v":-0.43},{"p":"a","s":"single","g":1,"day":181,"v":-0.45},{"p":"a","s":"single","g":1,"day":198,"v":-0.46},{"p":"a","s":"single","g":1,"day":216,"v":-0.56},{"p":"a","s":"single","g":1,"day":227,"v":-0.5},{"p":"a","s":"single","g":1,"day":239,"v":-0.46},{"p":"a","s":"single","g":1,"day":251,"v":-0.61},
{"p":"b","s":"4mbin","g":1,"day":-22,"v":-1.1},{"p":"b","s":"4mbin","g":1,"day":-12,"v":-1.5},{"p":"b","s":"4mbin","g":1,"day":0,"v":-2.0},{"p":"b","s":"4mbin","g":1,"day":9,"v":-1.5},{"p":"b","s":"4mbin","g":1,"day":23,"v":-1.55},{"p":"b","s":"4mbin","g":1,"day":32,"v":-1.6},{"p":"b","s":"4mbin","g":1,"day":43,"v":-1.1},{"p":"b","s":"4mbin","g":1,"day":63,"v":-1.5},{"p":"b","s":"4mbin","g":1,"day":75,"v":-1.7},{"p":"b","s":"4mbin","g":1,"day":84,"v":-1.6},{"p":"b","s":"4mbin","g":1,"day":95,"v":-1.9},{"p":"b","s":"4mbin","g":1,"day":104,"v":-2.3},{"p":"b","s":"4mbin","g":1,"day":112,"v":-2.0},{"p":"b","s":"4mbin","g":1,"day":127,"v":-1.5},{"p":"b","s":"4mbin","g":1,"day":144,"v":-1.6},{"p":"b","s":"4mbin","g":1,"day":155,"v":-1.4},{"p":"b","s":"4mbin","g":1,"day":167,"v":-1.2},{"p":"b","s":"4mbin","g":1,"day":179,"v":-1.4},{"p":"b","s":"4mbin","g":1,"day":187,"v":-1.6},{"p":"b","s":"4mbin","g":1,"day":196,"v":-1.4},{"p":"b","s":"4mbin","g":1,"day":207,"v":-1.0},{"p":"b","s":"4mbin","g":1,"day":222,"v":-0.7},{"p":"b","s":"4mbin","g":1,"day":236,"v":-0.5},{"p":"b","s":"4mbin","g":1,"day":248,"v":-0.5},{"p":"b","s":"4mbin","g":1,"day":259,"v":-0.3},{"p":"b","s":"4mbin","g":1,"day":268,"v":-0.2},
{"p":"b","s":"4mbin","g":2,"day":383,"v":-2.05},{"p":"b","s":"4mbin","g":2,"day":391,"v":-2.0},{"p":"b","s":"4mbin","g":2,"day":400,"v":-1.7},{"p":"b","s":"4mbin","g":2,"day":409,"v":-1.6},{"p":"b","s":"4mbin","g":2,"day":420,"v":-1.65},{"p":"b","s":"4mbin","g":2,"day":429,"v":-1.2},{"p":"b","s":"4mbin","g":2,"day":440,"v":-0.8},{"p":"b","s":"4mbin","g":2,"day":449,"v":-0.3},{"p":"b","s":"4mbin","g":2,"day":461,"v":0.1},{"p":"b","s":"4mbin","g":2,"day":472,"v":0.35},{"p":"b","s":"4mbin","g":2,"day":481,"v":0.5},{"p":"b","s":"4mbin","g":2,"day":489,"v":1.4},{"p":"b","s":"4mbin","g":2,"day":498,"v":1.2},{"p":"b","s":"4mbin","g":2,"day":507,"v":0.7},{"p":"b","s":"4mbin","g":2,"day":512,"v":0.4},{"p":"b","s":"4mbin","g":2,"day":521,"v":1.0},{"p":"b","s":"4mbin","g":2,"day":530,"v":1.2},{"p":"b","s":"4mbin","g":2,"day":541,"v":1.6},{"p":"b","s":"4mbin","g":2,"day":553,"v":2.1},{"p":"b","s":"4mbin","g":2,"day":564,"v":2.2},{"p":"b","s":"4mbin","g":2,"day":576,"v":2.8},{"p":"b","s":"4mbin","g":2,"day":587,"v":2.65},{"p":"b","s":"4mbin","g":2,"day":599,"v":2.55},{"p":"b","s":"4mbin","g":2,"day":607,"v":2.4},{"p":"b","s":"4mbin","g":2,"day":616,"v":2.6},{"p":"b","s":"4mbin","g":2,"day":628,"v":2.8},{"p":"b","s":"4mbin","g":2,"day":638,"v":3.1},{"p":"b","s":"4mbin","g":2,"day":648,"v":2.7},{"p":"b","s":"4mbin","g":2,"day":656,"v":2.2},{"p":"b","s":"4mbin","g":2,"day":668,"v":2.2},{"p":"b","s":"4mbin","g":2,"day":679,"v":2.0},{"p":"b","s":"4mbin","g":2,"day":691,"v":1.7},{"p":"b","s":"4mbin","g":2,"day":700,"v":1.6},{"p":"b","s":"4mbin","g":2,"day":708,"v":1.8},{"p":"b","s":"4mbin","g":2,"day":723,"v":1.5},
{"p":"b","s":"single","g":1,"day":-22,"v":-3.45},{"p":"b","s":"single","g":1,"day":-14,"v":-3.5},{"p":"b","s":"single","g":1,"day":-6,"v":-4.5},{"p":"b","s":"single","g":1,"day":3,"v":-4.8},{"p":"b","s":"single","g":1,"day":14,"v":-4.8},{"p":"b","s":"single","g":1,"day":23,"v":-4.9},{"p":"b","s":"single","g":1,"day":33,"v":-4.4},{"p":"b","s":"single","g":1,"day":43,"v":-3.7},{"p":"b","s":"single","g":1,"day":55,"v":-4.0},{"p":"b","s":"single","g":1,"day":63,"v":-4.4},{"p":"b","s":"single","g":1,"day":72,"v":-4.7},{"p":"b","s":"single","g":1,"day":81,"v":-4.3},{"p":"b","s":"single","g":1,"day":89,"v":-3.9},{"p":"b","s":"single","g":1,"day":98,"v":-3.8},{"p":"b","s":"single","g":1,"day":109,"v":-3.2},{"p":"b","s":"single","g":1,"day":121,"v":-2.8},{"p":"b","s":"single","g":1,"day":132,"v":-2.85},{"p":"b","s":"single","g":1,"day":144,"v":-2.7},{"p":"b","s":"single","g":1,"day":153,"v":-2.7},{"p":"b","s":"single","g":1,"day":164,"v":-2.2},{"p":"b","s":"single","g":1,"day":176,"v":-1.5},{"p":"b","s":"single","g":1,"day":181,"v":-1.3},{"p":"b","s":"single","g":1,"day":193,"v":-1.5},{"p":"b","s":"single","g":1,"day":204,"v":-1.1},{"p":"b","s":"single","g":1,"day":219,"v":-0.4},{"p":"b","s":"single","g":1,"day":230,"v":-0.5},{"p":"b","s":"single","g":1,"day":242,"v":-0.5},{"p":"b","s":"single","g":1,"day":253,"v":-0.2},{"p":"b","s":"single","g":1,"day":262,"v":0.0},{"p":"b","s":"single","g":1,"day":271,"v":0.2},
{"p":"b","s":"single","g":2,"day":383,"v":-0.9},{"p":"b","s":"single","g":2,"day":391,"v":-1.1},{"p":"b","s":"single","g":2,"day":403,"v":-0.5},{"p":"b","s":"single","g":2,"day":412,"v":-0.9},{"p":"b","s":"single","g":2,"day":420,"v":-1.4},{"p":"b","s":"single","g":2,"day":429,"v":-0.5},{"p":"b","s":"single","g":2,"day":438,"v":0.5},{"p":"b","s":"single","g":2,"day":446,"v":0.6},{"p":"b","s":"single","g":2,"day":455,"v":1.2},{"p":"b","s":"single","g":2,"day":463,"v":1.7},{"p":"b","s":"single","g":2,"day":472,"v":1.5},{"p":"b","s":"single","g":2,"day":481,"v":2.5},{"p":"b","s":"single","g":2,"day":489,"v":4.2},{"p":"b","s":"single","g":2,"day":494,"v":4.4},{"p":"b","s":"single","g":2,"day":501,"v":3.2},{"p":"b","s":"single","g":2,"day":510,"v":1.5},{"p":"b","s":"single","g":2,"day":515,"v":1.6},{"p":"b","s":"single","g":2,"day":524,"v":2.2},{"p":"b","s":"single","g":2,"day":533,"v":1.5},{"p":"b","s":"single","g":2,"day":541,"v":0.5},{"p":"b","s":"single","g":2,"day":547,"v":0.25},{"p":"b","s":"single","g":2,"day":556,"v":0.5},{"p":"b","s":"single","g":2,"day":564,"v":2.0},{"p":"b","s":"single","g":2,"day":576,"v":3.8},{"p":"b","s":"single","g":2,"day":587,"v":3.3},{"p":"b","s":"single","g":2,"day":599,"v":3.8},{"p":"b","s":"single","g":2,"day":607,"v":4.0},{"p":"b","s":"single","g":2,"day":619,"v":3.7},{"p":"b","s":"single","g":2,"day":628,"v":4.5},{"p":"b","s":"single","g":2,"day":638,"v":5.3},{"p":"b","s":"single","g":2,"day":648,"v":4.8},{"p":"b","s":"single","g":2,"day":656,"v":4.5},{"p":"b","s":"single","g":2,"day":668,"v":4.7},{"p":"b","s":"single","g":2,"day":679,"v":4.2},{"p":"b","s":"single","g":2,"day":691,"v":3.6},{"p":"b","s":"single","g":2,"day":702,"v":3.2},{"p":"b","s":"single","g":2,"day":714,"v":2.8},{"p":"b","s":"single","g":2,"day":723,"v":2.7},
{"p":"b","s":"alt","g":1,"day":-22,"v":-4.3},{"p":"b","s":"alt","g":1,"day":-14,"v":-4.5},{"p":"b","s":"alt","g":1,"day":0,"v":-5.3},{"p":"b","s":"alt","g":1,"day":12,"v":-5.2},{"p":"b","s":"alt","g":1,"day":23,"v":-5.4},{"p":"b","s":"alt","g":1,"day":40,"v":-4.6},{"p":"b","s":"alt","g":1,"day":52,"v":-4.8},{"p":"b","s":"alt","g":1,"day":69,"v":-5.3},{"p":"b","s":"alt","g":1,"day":81,"v":-5.1},{"p":"b","s":"alt","g":1,"day":92,"v":-4.9},{"p":"b","s":"alt","g":1,"day":101,"v":-5.0},{"p":"b","s":"alt","g":1,"day":109,"v":-4.7},{"p":"b","s":"alt","g":1,"day":121,"v":-4.3},{"p":"b","s":"alt","g":1,"day":138,"v":-4.2},{"p":"b","s":"alt","g":1,"day":150,"v":-4.25},{"p":"b","s":"alt","g":1,"day":167,"v":-3.8},{"p":"b","s":"alt","g":1,"day":178,"v":-3.5},{"p":"b","s":"alt","g":1,"day":190,"v":-3.6},{"p":"b","s":"alt","g":1,"day":201,"v":-3.3},{"p":"b","s":"alt","g":1,"day":219,"v":-2.8},{"p":"b","s":"alt","g":1,"day":236,"v":-2.6},{"p":"b","s":"alt","g":1,"day":248,"v":-2.6},{"p":"b","s":"alt","g":1,"day":259,"v":-2.3},{"p":"b","s":"alt","g":1,"day":271,"v":-2.1},
{"p":"b","s":"alt","g":2,"day":383,"v":0.7},{"p":"b","s":"alt","g":2,"day":391,"v":0.6},{"p":"b","s":"alt","g":2,"day":400,"v":1.0},{"p":"b","s":"alt","g":2,"day":406,"v":1.1},{"p":"b","s":"alt","g":2,"day":415,"v":0.8},{"p":"b","s":"alt","g":2,"day":420,"v":0.6},{"p":"b","s":"alt","g":2,"day":429,"v":1.0},{"p":"b","s":"alt","g":2,"day":438,"v":1.8},{"p":"b","s":"alt","g":2,"day":446,"v":2.0},{"p":"b","s":"alt","g":2,"day":455,"v":2.5},{"p":"b","s":"alt","g":2,"day":463,"v":3.0},{"p":"b","s":"alt","g":2,"day":472,"v":3.1},{"p":"b","s":"alt","g":2,"day":481,"v":3.8},{"p":"b","s":"alt","g":2,"day":489,"v":5.0},{"p":"b","s":"alt","g":2,"day":495,"v":4.8},{"p":"b","s":"alt","g":2,"day":504,"v":3.3},{"p":"b","s":"alt","g":2,"day":510,"v":3.0},{"p":"b","s":"alt","g":2,"day":518,"v":3.6},{"p":"b","s":"alt","g":2,"day":524,"v":3.8},{"p":"b","s":"alt","g":2,"day":533,"v":3.4},{"p":"b","s":"alt","g":2,"day":541,"v":3.1},{"p":"b","s":"alt","g":2,"day":553,"v":3.3},{"p":"b","s":"alt","g":2,"day":564,"v":4.3},{"p":"b","s":"alt","g":2,"day":576,"v":5.4},{"p":"b","s":"alt","g":2,"day":587,"v":5.0},{"p":"b","s":"alt","g":2,"day":599,"v":5.3},{"p":"b","s":"alt","g":2,"day":607,"v":5.4},{"p":"b","s":"alt","g":2,"day":619,"v":5.1},{"p":"b","s":"alt","g":2,"day":628,"v":5.7},{"p":"b","s":"alt","g":2,"day":638,"v":6.3},{"p":"b","s":"alt","g":2,"day":648,"v":5.6},{"p":"b","s":"alt","g":2,"day":656,"v":5.4},{"p":"b","s":"alt","g":2,"day":665,"v":5.55},{"p":"b","s":"alt","g":2,"day":674,"v":5.3},{"p":"b","s":"alt","g":2,"day":685,"v":4.8},{"p":"b","s":"alt","g":2,"day":697,"v":4.6},{"p":"b","s":"alt","g":2,"day":708,"v":4.5},{"p":"b","s":"alt","g":2,"day":723,"v":4.2},
{"p":"c","s":"4mbin","g":1,"day":0,"v":-1.22},{"p":"c","s":"4mbin","g":1,"day":5,"v":-1.9},{"p":"c","s":"4mbin","g":1,"day":9,"v":-2.55},{"p":"c","s":"4mbin","g":1,"day":17,"v":-3.3},{"p":"c","s":"4mbin","g":1,"day":24,"v":-3.8},{"p":"c","s":"4mbin","g":1,"day":33,"v":-4.36},{"p":"c","s":"4mbin","g":1,"day":43,"v":-4.78},{"p":"c","s":"4mbin","g":1,"day":52,"v":-5.02},{"p":"c","s":"4mbin","g":1,"day":62,"v":-5.16},{"p":"c","s":"4mbin","g":1,"day":71,"v":-5.22},{"p":"c","s":"4mbin","g":1,"day":80,"v":-5.22},{"p":"c","s":"4mbin","g":1,"day":90,"v":-5.32},{"p":"c","s":"4mbin","g":1,"day":99,"v":-5.19},{"p":"c","s":"4mbin","g":1,"day":109,"v":-5.1},{"p":"c","s":"4mbin","g":1,"day":118,"v":-4.86},{"p":"c","s":"4mbin","g":1,"day":128,"v":-4.66},{"p":"c","s":"4mbin","g":1,"day":137,"v":-4.86},{"p":"c","s":"4mbin","g":1,"day":147,"v":-4.83},{"p":"c","s":"4mbin","g":1,"day":156,"v":-4.94},{"p":"c","s":"4mbin","g":1,"day":166,"v":-5.02},{"p":"c","s":"4mbin","g":1,"day":175,"v":-5.19},{"p":"c","s":"4mbin","g":1,"day":185,"v":-5.16},{"p":"c","s":"4mbin","g":1,"day":194,"v":-5.1},{"p":"c","s":"4mbin","g":1,"day":204,"v":-4.94},{"p":"c","s":"4mbin","g":1,"day":213,"v":-4.53},{"p":"c","s":"4mbin","g":1,"day":222,"v":-3.95},{"p":"c","s":"4mbin","g":1,"day":232,"v":-3.54},{"p":"c","s":"4mbin","g":1,"day":241,"v":-3.2},{"p":"c","s":"4mbin","g":1,"day":251,"v":-3.04},{"p":"c","s":"4mbin","g":1,"day":260,"v":-2.9},{"p":"c","s":"4mbin","g":1,"day":270,"v":-2.88},{"p":"c","s":"4mbin","g":1,"day":279,"v":-2.55},{"p":"c","s":"4mbin","g":1,"day":289,"v":-1.72},{"p":"c","s":"4mbin","g":1,"day":298,"v":-1.3},{"p":"c","s":"4mbin","g":1,"day":308,"v":-1.14},{"p":"c","s":"4mbin","g":1,"day":317,"v":-0.98},{"p":"c","s":"4mbin","g":1,"day":327,"v":-0.86},{"p":"c","s":"4mbin","g":1,"day":336,"v":-0.73},{"p":"c","s":"4mbin","g":1,"day":346,"v":-0.48},{"p":"c","s":"4mbin","g":1,"day":355,"v":-0.15},{"p":"c","s":"4mbin","g":1,"day":360,"v":0.02},
{"p":"c","s":"4mbin","g":2,"day":399,"v":-0.23},{"p":"c","s":"4mbin","g":2,"day":404,"v":0.1},{"p":"c","s":"4mbin","g":2,"day":412,"v":1.26},{"p":"c","s":"4mbin","g":2,"day":419,"v":2.08},{"p":"c","s":"4mbin","g":2,"day":426,"v":3.07},{"p":"c","s":"4mbin","g":2,"day":433,"v":3.49},{"p":"c","s":"4mbin","g":2,"day":442,"v":3.49},{"p":"c","s":"4mbin","g":2,"day":447,"v":3.74},{"p":"c","s":"4mbin","g":2,"day":454,"v":5.06},{"p":"c","s":"4mbin","g":2,"day":460,"v":5.92},{"p":"c","s":"4mbin","g":2,"day":466,"v":5.88},{"p":"c","s":"4mbin","g":2,"day":473,"v":5.72},{"p":"c","s":"4mbin","g":2,"day":478,"v":5.31},{"p":"c","s":"4mbin","g":2,"day":485,"v":4.89},{"p":"c","s":"4mbin","g":2,"day":495,"v":4.23},{"p":"c","s":"4mbin","g":2,"day":504,"v":3.57},{"p":"c","s":"4mbin","g":2,"day":514,"v":3.32},{"p":"c","s":"4mbin","g":2,"day":521,"v":3.32},{"p":"c","s":"4mbin","g":2,"day":530,"v":3.65},
{"p":"c","s":"4mbin","g":3,"day":561,"v":4.64},{"p":"c","s":"4mbin","g":3,"day":568,"v":4.98},{"p":"c","s":"4mbin","g":3,"day":575,"v":5.31},{"p":"c","s":"4mbin","g":3,"day":582,"v":5.55},{"p":"c","s":"4mbin","g":3,"day":587,"v":5.64},
{"p":"c","s":"4mbin","g":4,"day":618,"v":5.97},{"p":"c","s":"4mbin","g":4,"day":623,"v":6.3},{"p":"c","s":"4mbin","g":4,"day":630,"v":5.97},{"p":"c","s":"4mbin","g":4,"day":637,"v":5.47},{"p":"c","s":"4mbin","g":4,"day":644,"v":5.14},{"p":"c","s":"4mbin","g":4,"day":651,"v":5.06},{"p":"c","s":"4mbin","g":4,"day":658,"v":5.26},{"p":"c","s":"4mbin","g":4,"day":665,"v":5.06},{"p":"c","s":"4mbin","g":4,"day":673,"v":4.81},{"p":"c","s":"4mbin","g":4,"day":680,"v":4.73},{"p":"c","s":"4mbin","g":4,"day":687,"v":4.81},{"p":"c","s":"4mbin","g":4,"day":694,"v":4.89},{"p":"c","s":"4mbin","g":4,"day":701,"v":5.14},{"p":"c","s":"4mbin","g":4,"day":706,"v":5.47},
{"p":"c","s":"single","g":1,"day":0,"v":-3.2},{"p":"c","s":"single","g":1,"day":7,"v":-4.53},{"p":"c","s":"single","g":1,"day":14,"v":-5.36},{"p":"c","s":"single","g":1,"day":21,"v":-5.19},{"p":"c","s":"single","g":1,"day":31,"v":-4.83},{"p":"c","s":"single","g":1,"day":40,"v":-5.1},{"p":"c","s":"single","g":1,"day":50,"v":-5.69},{"p":"c","s":"single","g":1,"day":62,"v":-5.93},{"p":"c","s":"single","g":1,"day":73,"v":-5.85},{"p":"c","s":"single","g":1,"day":85,"v":-5.77},{"p":"c","s":"single","g":1,"day":95,"v":-5.52},{"p":"c","s":"single","g":1,"day":107,"v":-5.44},{"p":"c","s":"single","g":1,"day":118,"v":-5.6},{"p":"c","s":"single","g":1,"day":128,"v":-5.77},{"p":"c","s":"single","g":1,"day":140,"v":-5.65},{"p":"c","s":"single","g":1,"day":152,"v":-5.49},{"p":"c","s":"single","g":1,"day":166,"v":-5.52},{"p":"c","s":"single","g":1,"day":180,"v":-5.65},{"p":"c","s":"single","g":1,"day":192,"v":-5.72},{"p":"c","s":"single","g":1,"day":204,"v":-5.49},{"p":"c","s":"single","g":1,"day":211,"v":-5.39},{"p":"c","s":"single","g":1,"day":220,"v":-4.86},{"p":"c","s":"single","g":1,"day":227,"v":-4.03},{"p":"c","s":"single","g":1,"day":234,"v":-4.2},{"p":"c","s":"single","g":1,"day":244,"v":-4.61},{"p":"c","s":"single","g":1,"day":253,"v":-3.79},{"p":"c","s":"single","g":1,"day":263,"v":-3.12},{"p":"c","s":"single","g":1,"day":270,"v":-2.88},{"p":"c","s":"single","g":1,"day":279,"v":-2.21},{"p":"c","s":"single","g":1,"day":286,"v":-1.55},{"p":"c","s":"single","g":1,"day":294,"v":-1.72},{"p":"c","s":"single","g":1,"day":301,"v":-2.3},{"p":"c","s":"single","g":1,"day":308,"v":-2.38},{"p":"c","s":"single","g":1,"day":315,"v":-1.55},{"p":"c","s":"single","g":1,"day":324,"v":-0.98},{"p":"c","s":"single","g":1,"day":331,"v":-1.31},{"p":"c","s":"single","g":1,"day":341,"v":-1.64},{"p":"c","s":"single","g":1,"day":350,"v":-1.55},{"p":"c","s":"single","g":1,"day":360,"v":-0.98},
{"p":"c","s":"single","g":2,"day":399,"v":0.18},{"p":"c","s":"single","g":2,"day":407,"v":1.26},{"p":"c","s":"single","g":2,"day":414,"v":2.58},{"p":"c","s":"single","g":2,"day":421,"v":4.07},{"p":"c","s":"single","g":2,"day":426,"v":4.64},{"p":"c","s":"single","g":2,"day":431,"v":4.56},{"p":"c","s":"single","g":2,"day":438,"v":3.9},{"p":"c","s":"single","g":2,"day":443,"v":3.74},{"p":"c","s":"single","g":2,"day":450,"v":4.89},{"p":"c","s":"single","g":2,"day":457,"v":6.38},{"p":"c","s":"single","g":2,"day":460,"v":6.79},{"p":"c","s":"single","g":2,"day":466,"v":6.13},{"p":"c","s":"single","g":2,"day":473,"v":5.22},{"p":"c","s":"single","g":2,"day":480,"v":4.98},{"p":"c","s":"single","g":2,"day":490,"v":4.89},{"p":"c","s":"single","g":2,"day":499,"v":4.23},{"p":"c","s":"single","g":2,"day":509,"v":3.49},{"p":"c","s":"single","g":2,"day":518,"v":3.32},{"p":"c","s":"single","g":2,"day":528,"v":3.07},{"p":"c","s":"single","g":2,"day":535,"v":2.66},{"p":"c","s":"single","g":2,"day":540,"v":2.74},{"p":"c","s":"single","g":2,"day":547,"v":3.9},{"p":"c","s":"single","g":2,"day":554,"v":5.06},{"p":"c","s":"single","g":2,"day":561,"v":5.55},{"p":"c","s":"single","g":2,"day":571,"v":5.72},{"p":"c","s":"single","g":2,"day":580,"v":6.21},{"p":"c","s":"single","g":2,"day":590,"v":6.46},{"p":"c","s":"single","g":2,"day":599,"v":6.3},{"p":"c","s":"single","g":2,"day":609,"v":6.13},{"p":"c","s":"single","g":2,"day":618,"v":6.46},{"p":"c","s":"single","g":2,"day":625,"v":7.21},{"p":"c","s":"single","g":2,"day":632,"v":6.71},{"p":"c","s":"single","g":2,"day":639,"v":5.8},{"p":"c","s":"single","g":2,"day":646,"v":5.14},{"p":"c","s":"single","g":2,"day":654,"v":5.31},{"p":"c","s":"single","g":2,"day":661,"v":6.38},{"p":"c","s":"single","g":2,"day":668,"v":7.37},{"p":"c","s":"single","g":2,"day":675,"v":7.7},{"p":"c","s":"single","g":2,"day":684,"v":7.54},{"p":"c","s":"single","g":2,"day":694,"v":7.62},{"p":"c","s":"single","g":2,"day":701,"v":8.12},{"p":"c","s":"single","g":2,"day":707,"v":8.69},
{"p":"d","s":"4mbin","g":1,"day":-22,"v":-2.5},{"p":"d","s":"4mbin","g":1,"day":-14,"v":-2.28},{"p":"d","s":"4mbin","g":1,"day":0,"v":-2.15},{"p":"d","s":"4mbin","g":1,"day":9,"v":-2.32},{"p":"d","s":"4mbin","g":1,"day":17,"v":-2.24},{"p":"d","s":"4mbin","g":1,"day":26,"v":-2.37},{"p":"d","s":"4mbin","g":1,"day":37,"v":-2.9},{"p":"d","s":"4mbin","g":1,"day":49,"v":-3.73},{"p":"d","s":"4mbin","g":1,"day":58,"v":-4.3},{"p":"d","s":"4mbin","g":1,"day":69,"v":-5.05},{"p":"d","s":"4mbin","g":1,"day":81,"v":-6.04},{"p":"d","s":"4mbin","g":1,"day":92,"v":-6.29},{"p":"d","s":"4mbin","g":1,"day":101,"v":-6.54},{"p":"d","s":"4mbin","g":1,"day":109,"v":-6.37},{"p":"d","s":"4mbin","g":1,"day":118,"v":-5.38},{"p":"d","s":"4mbin","g":1,"day":127,"v":-4.39},{"p":"d","s":"4mbin","g":1,"day":135,"v":-4.22},{"p":"d","s":"4mbin","g":1,"day":144,"v":-4.8},{"p":"d","s":"4mbin","g":1,"day":155,"v":-5.71},{"p":"d","s":"4mbin","g":1,"day":167,"v":-6.13},{"p":"d","s":"4mbin","g":1,"day":179,"v":-5.88},{"p":"d","s":"4mbin","g":1,"day":190,"v":-5.38},{"p":"d","s":"4mbin","g":1,"day":199,"v":-4.55},{"p":"d","s":"4mbin","g":1,"day":210,"v":-3.56},{"p":"d","s":"4mbin","g":1,"day":219,"v":-3.48},{"p":"d","s":"4mbin","g":1,"day":230,"v":-2.9},{"p":"d","s":"4mbin","g":1,"day":239,"v":-2.4},{"p":"d","s":"4mbin","g":1,"day":248,"v":-2.32},{"p":"d","s":"4mbin","g":1,"day":259,"v":-2.4},{"p":"d","s":"4mbin","g":1,"day":268,"v":-1.9},{"p":"d","s":"4mbin","g":1,"day":276,"v":-1.16},{"p":"d","s":"4mbin","g":1,"day":285,"v":-0.99},{"p":"d","s":"4mbin","g":1,"day":294,"v":-0.75},{"p":"d","s":"4mbin","g":1,"day":302,"v":-0.08},{"p":"d","s":"4mbin","g":1,"day":314,"v":0.58},{"p":"d","s":"4mbin","g":1,"day":322,"v":0.33},{"p":"d","s":"4mbin","g":1,"day":331,"v":-0.08},{"p":"d","s":"4mbin","g":1,"day":340,"v":-0.33},{"p":"d","s":"4mbin","g":1,"day":348,"v":-0.08},{"p":"d","s":"4mbin","g":1,"day":356,"v":0.08},
{"p":"d","s":"4mbin","g":2,"day":387,"v":0.33},{"p":"d","s":"4mbin","g":2,"day":394,"v":0.91},{"p":"d","s":"4mbin","g":2,"day":403,"v":1.9},{"p":"d","s":"4mbin","g":2,"day":412,"v":2.48},{"p":"d","s":"4mbin","g":2,"day":423,"v":2.98},{"p":"d","s":"4mbin","g":2,"day":435,"v":3.64},{"p":"d","s":"4mbin","g":2,"day":443,"v":4.22},{"p":"d","s":"4mbin","g":2,"day":452,"v":3.81},{"p":"d","s":"4mbin","g":2,"day":461,"v":2.9},{"p":"d","s":"4mbin","g":2,"day":469,"v":2.98},{"p":"d","s":"4mbin","g":2,"day":481,"v":2.98},{"p":"d","s":"4mbin","g":2,"day":489,"v":2.48},{"p":"d","s":"4mbin","g":2,"day":498,"v":2.48},{"p":"d","s":"4mbin","g":2,"day":507,"v":2.9},{"p":"d","s":"4mbin","g":2,"day":518,"v":3.89},{"p":"d","s":"4mbin","g":2,"day":527,"v":4.64},{"p":"d","s":"4mbin","g":2,"day":538,"v":4.55},{"p":"d","s":"4mbin","g":2,"day":547,"v":4.22},{"p":"d","s":"4mbin","g":2,"day":556,"v":4.06},{"p":"d","s":"4mbin","g":2,"day":567,"v":4.06},{"p":"d","s":"4mbin","g":2,"day":579,"v":4.47},{"p":"d","s":"4mbin","g":2,"day":590,"v":4.88},{"p":"d","s":"4mbin","g":2,"day":602,"v":5.3},{"p":"d","s":"4mbin","g":2,"day":610,"v":5.46},{"p":"d","s":"4mbin","g":2,"day":619,"v":5.46},{"p":"d","s":"4mbin","g":2,"day":628,"v":4.8},{"p":"d","s":"4mbin","g":2,"day":639,"v":4.72},{"p":"d","s":"4mbin","g":2,"day":651,"v":4.39},{"p":"d","s":"4mbin","g":2,"day":662,"v":3.81},{"p":"d","s":"4mbin","g":2,"day":674,"v":3.48},{"p":"d","s":"4mbin","g":2,"day":682,"v":2.98},{"p":"d","s":"4mbin","g":2,"day":691,"v":2.9},{"p":"d","s":"4mbin","g":2,"day":700,"v":3.39},{"p":"d","s":"4mbin","g":2,"day":708,"v":3.89},{"p":"d","s":"4mbin","g":2,"day":714,"v":5.13},{"p":"d","s":"4mbin","g":2,"day":723,"v":5.3},
{"p":"d","s":"single","g":1,"day":-22,"v":-1.6},{"p":"d","s":"single","g":1,"day":-14,"v":-1.24},{"p":"d","s":"single","g":1,"day":-6,"v":-1.21},{"p":"d","s":"single","g":1,"day":3,"v":-1.41},{"p":"d","s":"single","g":1,"day":12,"v":-1.24},{"p":"d","s":"single","g":1,"day":20,"v":-1.01},{"p":"d","s":"single","g":1,"day":26,"v":-1.24},{"p":"d","s":"single","g":1,"day":35,"v":-2.4},{"p":"d","s":"single","g":1,"day":46,"v":-3.39},{"p":"d","s":"single","g":1,"day":58,"v":-4.22},{"p":"d","s":"single","g":1,"day":69,"v":-4.72},{"p":"d","s":"single","g":1,"day":78,"v":-5.38},{"p":"d","s":"single","g":1,"day":86,"v":-6.29},{"p":"d","s":"single","g":1,"day":95,"v":-5.96},{"p":"d","s":"single","g":1,"day":104,"v":-6.21},{"p":"d","s":"single","g":1,"day":112,"v":-5.71},{"p":"d","s":"single","g":1,"day":121,"v":-4.72},{"p":"d","s":"single","g":1,"day":132,"v":-3.56},{"p":"d","s":"single","g":1,"day":141,"v":-4.06},{"p":"d","s":"single","g":1,"day":150,"v":-5.05},{"p":"d","s":"single","g":1,"day":161,"v":-5.88},{"p":"d","s":"single","g":1,"day":173,"v":-6.13},{"p":"d","s":"single","g":1,"day":184,"v":-5.71},{"p":"d","s":"single","g":1,"day":196,"v":-4.72},{"p":"d","s":"single","g":1,"day":207,"v":-3.73},{"p":"d","s":"single","g":1,"day":219,"v":-3.64},{"p":"d","s":"single","g":1,"day":227,"v":-3.73},{"p":"d","s":"single","g":1,"day":236,"v":-2.98},{"p":"d","s":"single","g":1,"day":248,"v":-2.07},{"p":"d","s":"single","g":1,"day":256,"v":-2.32},{"p":"d","s":"single","g":1,"day":265,"v":-1.74},{"p":"d","s":"single","g":1,"day":276,"v":-0.99},{"p":"d","s":"single","g":1,"day":288,"v":-1.08},{"p":"d","s":"single","g":1,"day":297,"v":-0.33},{"p":"d","s":"single","g":1,"day":305,"v":0.0},{"p":"d","s":"single","g":1,"day":316,"v":0.33},{"p":"d","s":"single","g":1,"day":322,"v":0.08},{"p":"d","s":"single","g":1,"day":331,"v":-0.41},{"p":"d","s":"single","g":1,"day":340,"v":-0.66},{"p":"d","s":"single","g":1,"day":348,"v":-0.08},{"p":"d","s":"single","g":1,"day":354,"v":0.12},{"p":"d","s":"single","g":1,"day":360,"v":-0.08},{"p":"d","s":"single","g":1,"day":366,"v":-0.25},{"p":"d","s":"single","g":1,"day":374,"v":0.5},{"p":"d","s":"single","g":1,"day":383,"v":2.24},{"p":"d","s":"single","g":1,"day":389,"v":2.48},{"p":"d","s":"single","g":1,"day":394,"v":2.15},{"p":"d","s":"single","g":1,"day":400,"v":1.74},{"p":"d","s":"single","g":1,"day":406,"v":1.82},{"p":"d","s":"single","g":1,"day":415,"v":2.4},{"p":"d","s":"single","g":1,"day":426,"v":3.15},{"p":"d","s":"single","g":1,"day":435,"v":3.73},{"p":"d","s":"single","g":1,"day":443,"v":4.22},{"p":"d","s":"single","g":1,"day":452,"v":3.64},{"p":"d","s":"single","g":1,"day":461,"v":2.81},{"p":"d","s":"single","g":1,"day":469,"v":2.57},{"p":"d","s":"single","g":1,"day":478,"v":2.9},{"p":"d","s":"single","g":1,"day":489,"v":2.48},{"p":"d","s":"single","g":1,"day":498,"v":2.57},{"p":"d","s":"single","g":1,"day":510,"v":3.39},{"p":"d","s":"single","g":1,"day":518,"v":4.47},{"p":"d","s":"single","g":1,"day":527,"v":4.72},{"p":"d","s":"single","g":1,"day":535,"v":4.22},{"p":"d","s":"single","g":1,"day":544,"v":4.22},{"p":"d","s":"single","g":1,"day":553,"v":4.64},{"p":"d","s":"single","g":1,"day":561,"v":4.14},{"p":"d","s":"single","g":1,"day":570,"v":3.73},{"p":"d","s":"single","g":1,"day":579,"v":3.97},{"p":"d","s":"single","g":1,"day":590,"v":4.72},{"p":"d","s":"single","g":1,"day":602,"v":4.8},{"p":"d","s":"single","g":1,"day":613,"v":5.3},{"p":"d","s":"single","g":1,"day":622,"v":4.72},{"p":"d","s":"single","g":1,"day":630,"v":4.06},{"p":"d","s":"single","g":1,"day":639,"v":3.64},{"p":"d","s":"single","g":1,"day":651,"v":3.39},{"p":"d","s":"single","g":1,"day":662,"v":3.31},{"p":"d","s":"single","g":1,"day":674,"v":2.73},{"p":"d","s":"single","g":1,"day":682,"v":2.15},{"p":"d","s":"single","g":1,"day":691,"v":2.57},{"p":"d","s":"single","g":1,"day":702,"v":3.73},{"p":"d","s":"single","g":1,"day":711,"v":3.97},{"p":"d","s":"single","g":1,"day":723,"v":3.64}
]},
"columns":2,
"spacing":{"row":19,"column":68},
"bounds":"flush",
"concat":[
{"width":546,"height":363,"resolve":{"axis":{"x":"independent","y":"independent"}},"layer":[
{"data":{"name":"bands"},"transform":[{"filter":"datum.p == 'a'"}],"mark":{"type":"area","color":"#8b1a1a","opacity":0.27,"clip":true},
"encoding":{"x":{"field":"day","type":"quantitative","scale":{"domain":[-38,739],"nice":false,"zero":false},"axis":{"values":[0,90,181,273,365,455,546,638,730],"labels":false,"grid":true,"domain":false,"tickSize":-6,"title":null}},
"y":{"field":"lo","type":"quantitative","scale":{"domain":[-9,9],"nice":false,"zero":false},"axis":{"values":[-8,-6,-4,-2,0,2,4,6,8],"labelExpr":"'' + datum.value","labelFontSize":18.5,"grid":true,"domain":false,"tickSize":-6,"labelPadding":16,"title":"melt rate anomaly [ma⁻¹]","titleFont":"Liberation Serif","titleFontSize":23,"titleFontWeight":"normal","titlePadding":8}},
"y2":{"field":"hi"},"detail":{"field":"g"}}},
{"data":{"name":"lines"},"transform":[{"filter":"datum.p == 'a' && (datum.s == '4mbin' || datum.s == 'single')"}],"mark":{"type":"line","clip":true,"strokeWidth":3},
"encoding":{"x":{"field":"day","type":"quantitative","scale":{"domain":[-38,739],"nice":false,"zero":false},"axis":null},"y":{"field":"v","type":"quantitative","scale":{"domain":[-9,9],"nice":false,"zero":false},"axis":null},
"color":{"field":"s","type":"nominal","legend":null,"scale":{"domain":["t2000","t2100","t2150","d2000","d2100","d2150","alt","4mbin","single"],"range":["#c8282d","#ff2a14","#ff7f2a","#23238a","#2626e0","#3a7af0","#f57c20","#7b0c0c","#12a5f2"]}},
"detail":{"field":"g"}}},
{"data":{"name":"vsr"},"transform":[{"filter":"datum.p == 'a'"}],"mark":{"type":"line","color":"#000000","strokeWidth":3.5,"strokeDash":[3.5,3.5],"clip":true},
"encoding":{"x":{"field":"day","type":"quantitative","scale":{"domain":[-38,739],"nice":false,"zero":false},"axis":{"orient":"top","values":[0,90,181,273,365,455,546,638,730],"labels":false,"grid":false,"domain":false,"tickSize":-6,"title":null}},"y":{"field":"v","type":"quantitative","scale":{"domain":[-9,9],"nice":false,"zero":false},"axis":{"orient":"right","values":[-8,-6,-4,-2,0,2,4,6,8],"labels":false,"grid":false,"domain":false,"tickSize":-6,"title":null}}}},
{"data":{"values":[{}]},"mark":{"type":"rect","fill":"white","stroke":"#262626","strokeWidth":1},
"encoding":{"x":{"datum":410,"type":"quantitative","scale":{"domain":[-38,739],"nice":false,"zero":false},"axis":null},"x2":{"datum":703},"y":{"datum":-3.2,"type":"quantitative","scale":{"domain":[-9,9],"nice":false,"zero":false},"axis":null},"y2":{"datum":-7.41}}},
{"data":{"name":"leg"},"mark":{"type":"rule","strokeWidth":3},
"encoding":{"x":{"datum":430,"type":"quantitative","scale":{"domain":[-38,739],"nice":false,"zero":false},"axis":null},"x2":{"datum":567},"y":{"field":"v","type":"quantitative","scale":{"domain":[-9,9],"nice":false,"zero":false},"axis":null},
"color":{"field":"s","type":"nominal","legend":null,"scale":{"domain":["t2000","t2100","t2150","d2000","d2100","d2150","alt","4mbin","single"],"range":["#c8282d","#ff2a14","#ff7f2a","#23238a","#2626e0","#3a7af0","#f57c20","#7b0c0c","#12a5f2"]}}}},
{"data":{"values":[{}]},"mark":{"type":"rule","color":"#000000","strokeWidth":3.5,"strokeDash":[3.5,3.5]},
"encoding":{"x":{"datum":430,"type":"quantitative","scale":{"domain":[-38,739],"nice":false,"zero":false},"axis":null},"x2":{"datum":567},"y":{"datum":-6.52,"type":"quantitative","scale":{"domain":[-9,9],"nice":false,"zero":false},"axis":null}}},
{"data":{"name":"leg"},"mark":{"type":"text","font":"Liberation Serif","fontStyle":"italic","fontSize":22,"align":"left","baseline":"alphabetic","color":"#1a1a1a"},
"encoding":{"x":{"datum":582,"type":"quantitative","scale":{"domain":[-38,739],"nice":false,"zero":false},"axis":null},"y":{"field":"tv","type":"quantitative","scale":{"domain":[-9,9],"nice":false,"zero":false},"axis":null},"text":{"value":"ṁ"}}},
{"data":{"name":"leg"},"mark":{"type":"text","font":"Liberation Serif","fontStyle":"italic","fontSize":15,"align":"left","baseline":"alphabetic","dx":18,"dy":4,"color":"#1a1a1a"},
"encoding":{"x":{"datum":582,"type":"quantitative","scale":{"domain":[-38,739],"nice":false,"zero":false},"axis":null},"y":{"field":"tv","type":"quantitative","scale":{"domain":[-9,9],"nice":false,"zero":false},"axis":null},"text":{"field":"t"}}},
{"data":{"values":[{"t":"vsr+surf"}]},"mark":{"type":"text","font":"Liberation Serif","fontSize":21,"align":"left","baseline":"alphabetic","color":"#1a1a1a"},
"encoding":{"x":{"datum":582,"type":"quantitative","scale":{"domain":[-38,739],"nice":false,"zero":false},"axis":null},"y":{"datum":-6.9,"type":"quantitative","scale":{"domain":[-9,9],"nice":false,"zero":false},"axis":null},"text":{"field":"t"}}},
{"data":{"name":"labels"},"transform":[{"filter":"datum.p == 'a'"}],"mark":{"type":"text","font":"Liberation Sans","fontSize":24,"align":"left","baseline":"alphabetic","color":"#000000"},
"encoding":{"x":{"datum":-22,"type":"quantitative","scale":{"domain":[-38,739],"nice":false,"zero":false},"axis":null},"y":{"datum":6.77,"type":"quantitative","scale":{"domain":[-9,9],"nice":false,"zero":false},"axis":null},"text":{"field":"t"}}}
]},
{"width":546,"height":363,"resolve":{"axis":{"x":"independent","y":"independent"}},"layer":[
{"data":{"name":"bands"},"transform":[{"filter":"datum.p == 'b'"}],"mark":{"type":"area","color":"#8b1a1a","opacity":0.27,"clip":true},
"encoding":{"x":{"field":"day","type":"quantitative","scale":{"domain":[-38,739],"nice":false,"zero":false},"axis":{"values":[0,90,181,273,365,455,546,638,730],"labels":false,"grid":true,"domain":false,"tickSize":-6,"title":null}},
"y":{"field":"lo","type":"quantitative","scale":{"domain":[-9,9],"nice":false,"zero":false},"axis":{"values":[-8,-6,-4,-2,0,2,4,6,8],"labelExpr":"'' + datum.value","labelFontSize":18.5,"grid":true,"domain":false,"tickSize":-6,"labelPadding":16,"title":null}},
"y2":{"field":"hi"},"detail":{"field":"g"}}},
{"data":{"name":"lines"},"transform":[{"filter":"datum.p == 'b' && (datum.s == '4mbin' || datum.s == 'single')"}],"mark":{"type":"line","clip":true,"strokeWidth":3},
"encoding":{"x":{"field":"day","type":"quantitative","scale":{"domain":[-38,739],"nice":false,"zero":false},"axis":null},"y":{"field":"v","type":"quantitative","scale":{"domain":[-9,9],"nice":false,"zero":false},"axis":null},
"color":{"field":"s","type":"nominal","legend":null,"scale":{"domain":["t2000","t2100","t2150","d2000","d2100","d2150","alt","4mbin","single"],"range":["#c8282d","#ff2a14","#ff7f2a","#23238a","#2626e0","#3a7af0","#f57c20","#7b0c0c","#12a5f2"]}},
"detail":{"field":"g"}}},
{"data":{"name":"lines"},"transform":[{"filter":"datum.p == 'b' && datum.s == 'alt'"}],"mark":{"type":"line","clip":true,"strokeWidth":2.5,"strokeDash":[9,4,2.5,4],"color":"#f57c20"},
"encoding":{"x":{"field":"day","type":"quantitative","scale":{"domain":[-38,739],"nice":false,"zero":false},"axis":null},"y":{"field":"v","type":"quantitative","scale":{"domain":[-9,9],"nice":false,"zero":false},"axis":null},"detail":{"field":"g"}}},
{"data":{"name":"vsr"},"transform":[{"filter":"datum.p == 'b'"}],"mark":{"type":"line","color":"#000000","strokeWidth":3.5,"strokeDash":[3.5,3.5],"clip":true},
"encoding":{"x":{"field":"day","type":"quantitative","scale":{"domain":[-38,739],"nice":false,"zero":false},"axis":{"orient":"top","values":[0,90,181,273,365,455,546,638,730],"labels":false,"grid":false,"domain":false,"tickSize":-6,"title":null}},"y":{"field":"v","type":"quantitative","scale":{"domain":[-9,9],"nice":false,"zero":false},"axis":{"orient":"right","values":[-8,-6,-4,-2,0,2,4,6,8],"labels":false,"grid":false,"domain":false,"tickSize":-6,"title":null}}}},
{"data":{"name":"labels"},"transform":[{"filter":"datum.p == 'b'"}],"mark":{"type":"text","font":"Liberation Sans","fontSize":24,"align":"left","baseline":"alphabetic","color":"#000000"},
"encoding":{"x":{"datum":-22,"type":"quantitative","scale":{"domain":[-38,739],"nice":false,"zero":false},"axis":null},"y":{"datum":6.77,"type":"quantitative","scale":{"domain":[-9,9],"nice":false,"zero":false},"axis":null},"text":{"field":"t"}}}
]},
{"width":546,"height":363,"resolve":{"axis":{"x":"independent","y":"independent"}},"layer":[
{"data":{"name":"bands"},"transform":[{"filter":"datum.p == 'c'"}],"mark":{"type":"area","color":"#8b1a1a","opacity":0.27,"clip":true},
"encoding":{"x":{"field":"day","type":"quantitative","scale":{"domain":[-38,739],"nice":false,"zero":false},"axis":{"values":[0,90,181,273,365,455,546,638,730],"labelExpr":"['Jan/17','Apr/17','Jul/17','Oct/17','Jan/18','Apr/18','Jul/18','Oct/18','Jan/19'][indexof([0,90,181,273,365,455,546,638,730], datum.value)]","labelFontSize":18.5,"grid":true,"domain":false,"tickSize":-6,"labelPadding":18,"title":null}},
"y":{"field":"lo","type":"quantitative","scale":{"domain":[-9,9],"nice":false,"zero":false},"axis":{"values":[-8,-6,-4,-2,0,2,4,6,8],"labelExpr":"'' + datum.value","labelFontSize":18.5,"grid":true,"domain":false,"tickSize":-6,"labelPadding":16,"title":"melt rate anomaly [ma⁻¹]","titleFont":"Liberation Serif","titleFontSize":23,"titleFontWeight":"normal","titlePadding":8}},
"y2":{"field":"hi"},"detail":{"field":"g"}}},
{"data":{"name":"lines"},"transform":[{"filter":"datum.p == 'c' && (datum.s == 't2000' || datum.s == 't2100' || datum.s == 't2150')"}],"mark":{"type":"line","clip":true,"strokeWidth":1.3},
"encoding":{"x":{"field":"day","type":"quantitative","scale":{"domain":[-38,739],"nice":false,"zero":false},"axis":null},"y":{"field":"v","type":"quantitative","scale":{"domain":[-9,9],"nice":false,"zero":false},"axis":null},
"color":{"field":"s","type":"nominal","legend":null,"scale":{"domain":["t2000","t2100","t2150","d2000","d2100","d2150","alt","4mbin","single"],"range":["#c8282d","#ff2a14","#ff7f2a","#23238a","#2626e0","#3a7af0","#f57c20","#7b0c0c","#12a5f2"]}},
"detail":{"field":"g"}}},
{"data":{"name":"lines"},"transform":[{"filter":"datum.p == 'c' && (datum.s == 'd2000' || datum.s == 'd2100' || datum.s == 'd2150')"}],"mark":{"type":"line","clip":true,"strokeWidth":1.3,"strokeDash":[11,6]},
"encoding":{"x":{"field":"day","type":"quantitative","scale":{"domain":[-38,739],"nice":false,"zero":false},"axis":null},"y":{"field":"v","type":"quantitative","scale":{"domain":[-9,9],"nice":false,"zero":false},"axis":null},
"color":{"field":"s","type":"nominal","legend":null,"scale":{"domain":["t2000","t2100","t2150","d2000","d2100","d2150","alt","4mbin","single"],"range":["#c8282d","#ff2a14","#ff7f2a","#23238a","#2626e0","#3a7af0","#f57c20","#7b0c0c","#12a5f2"]}},
"detail":{"field":"g"}}},
{"data":{"name":"lines"},"transform":[{"filter":"datum.p == 'c' && (datum.s == '4mbin' || datum.s == 'single')"}],"mark":{"type":"line","clip":true,"strokeWidth":3},
"encoding":{"x":{"field":"day","type":"quantitative","scale":{"domain":[-38,739],"nice":false,"zero":false},"axis":null},"y":{"field":"v","type":"quantitative","scale":{"domain":[-9,9],"nice":false,"zero":false},"axis":null},
"color":{"field":"s","type":"nominal","legend":null,"scale":{"domain":["t2000","t2100","t2150","d2000","d2100","d2150","alt","4mbin","single"],"range":["#c8282d","#ff2a14","#ff7f2a","#23238a","#2626e0","#3a7af0","#f57c20","#7b0c0c","#12a5f2"]}},
"detail":{"field":"g"}}},
{"data":{"name":"vsr"},"transform":[{"filter":"datum.p == 'c'"}],"mark":{"type":"line","color":"#000000","strokeWidth":3.5,"strokeDash":[3.5,3.5],"clip":true,"interpolate":"monotone"},
"encoding":{"x":{"field":"day","type":"quantitative","scale":{"domain":[-38,739],"nice":false,"zero":false},"axis":{"orient":"top","values":[0,90,181,273,365,455,546,638,730],"labels":false,"grid":false,"domain":false,"tickSize":-6,"title":null}},"y":{"field":"v","type":"quantitative","scale":{"domain":[-9,9],"nice":false,"zero":false},"axis":{"orient":"right","values":[-8,-6,-4,-2,0,2,4,6,8],"labels":false,"grid":false,"domain":false,"tickSize":-6,"title":null}}}},
{"data":{"name":"ann"},"mark":{"type":"text","font":"Liberation Sans","fontSize":19.5,"align":"right","baseline":"alphabetic","color":"#1a1a1a"},
"encoding":{"x":{"datum":571,"type":"quantitative","scale":{"domain":[-38,739],"nice":false,"zero":false},"axis":null},"y":{"field":"v","type":"quantitative","scale":{"domain":[-9,9],"nice":false,"zero":false},"axis":null},"text":{"field":"t"}}},
{"data":{"name":"anns"},"mark":{"type":"text","font":"Liberation Serif","fontStyle":"italic","fontSize":20,"align":"left","baseline":"alphabetic"},
"encoding":{"x":{"field":"day","type":"quantitative","scale":{"domain":[-38,739],"nice":false,"zero":false},"axis":null},"y":{"field":"v","type":"quantitative","scale":{"domain":[-9,9],"nice":false,"zero":false},"axis":null},"text":{"value":"ṁ"},
"color":{"field":"s","type":"nominal","legend":null,"scale":{"domain":["t2000","t2100","t2150","d2000","d2100","d2150","alt","4mbin","single"],"range":["#c8282d","#ff2a14","#ff7f2a","#23238a","#2626e0","#3a7af0","#f57c20","#7b0c0c","#12a5f2"]}}}},
{"data":{"name":"anns"},"mark":{"type":"text","font":"Liberation Serif","fontStyle":"italic","fontSize":15.5,"align":"left","baseline":"alphabetic","dx":16,"dy":5},
"encoding":{"x":{"field":"day","type":"quantitative","scale":{"domain":[-38,739],"nice":false,"zero":false},"axis":null},"y":{"field":"v","type":"quantitative","scale":{"domain":[-9,9],"nice":false,"zero":false},"axis":null},"text":{"field":"t"},
"color":{"field":"s","type":"nominal","legend":null,"scale":{"domain":["t2000","t2100","t2150","d2000","d2100","d2150","alt","4mbin","single"],"range":["#c8282d","#ff2a14","#ff7f2a","#23238a","#2626e0","#3a7af0","#f57c20","#7b0c0c","#12a5f2"]}}}},
{"data":{"name":"labels"},"transform":[{"filter":"datum.p == 'c'"}],"mark":{"type":"text","font":"Liberation Sans","fontSize":24,"align":"left","baseline":"alphabetic","color":"#000000"},
"encoding":{"x":{"datum":-22,"type":"quantitative","scale":{"domain":[-38,739],"nice":false,"zero":false},"axis":null},"y":{"datum":6.77,"type":"quantitative","scale":{"domain":[-9,9],"nice":false,"zero":false},"axis":null},"text":{"field":"t"}}}
]},
{"width":546,"height":363,"resolve":{"axis":{"x":"independent","y":"independent"}},"layer":[
{"data":{"name":"bands"},"transform":[{"filter":"datum.p == 'd'"}],"mark":{"type":"area","color":"#8b1a1a","opacity":0.27,"clip":true},
"encoding":{"x":{"field":"day","type":"quantitative","scale":{"domain":[-38,739],"nice":false,"zero":false},"axis":{"values":[0,90,181,273,365,455,546,638,730],"labelExpr":"['Jan/17','Apr/17','Jul/17','Oct/17','Jan/18','Apr/18','Jul/18','Oct/18','Jan/19'][indexof([0,90,181,273,365,455,546,638,730], datum.value)]","labelFontSize":18.5,"grid":true,"domain":false,"tickSize":-6,"labelPadding":18,"title":null}},
"y":{"field":"lo","type":"quantitative","scale":{"domain":[-9,9],"nice":false,"zero":false},"axis":{"values":[-8,-6,-4,-2,0,2,4,6,8],"labelExpr":"'' + datum.value","labelFontSize":18.5,"grid":true,"domain":false,"tickSize":-6,"labelPadding":16,"title":null}},
"y2":{"field":"hi"},"detail":{"field":"g"}}},
{"data":{"name":"lines"},"transform":[{"filter":"datum.p == 'd' && (datum.s == '4mbin' || datum.s == 'single')"}],"mark":{"type":"line","clip":true,"strokeWidth":3},
"encoding":{"x":{"field":"day","type":"quantitative","scale":{"domain":[-38,739],"nice":false,"zero":false},"axis":null},"y":{"field":"v","type":"quantitative","scale":{"domain":[-9,9],"nice":false,"zero":false},"axis":null},
"color":{"field":"s","type":"nominal","legend":null,"scale":{"domain":["t2000","t2100","t2150","d2000","d2100","d2150","alt","4mbin","single"],"range":["#c8282d","#ff2a14","#ff7f2a","#23238a","#2626e0","#3a7af0","#f57c20","#7b0c0c","#12a5f2"]}},
"detail":{"field":"g"}}},
{"data":{"name":"vsr"},"transform":[{"filter":"datum.p == 'd'"}],"mark":{"type":"line","color":"#000000","strokeWidth":3.5,"strokeDash":[3.5,3.5],"clip":true},
"encoding":{"x":{"field":"day","type":"quantitative","scale":{"domain":[-38,739],"nice":false,"zero":false},"axis":{"orient":"top","values":[0,90,181,273,365,455,546,638,730],"labels":false,"grid":false,"domain":false,"tickSize":-6,"title":null}},"y":{"field":"v","type":"quantitative","scale":{"domain":[-9,9],"nice":false,"zero":false},"axis":{"orient":"right","values":[-8,-6,-4,-2,0,2,4,6,8],"labels":false,"grid":false,"domain":false,"tickSize":-6,"title":null}}}},
{"data":{"name":"labels"},"transform":[{"filter":"datum.p == 'd'"}],"mark":{"type":"text","font":"Liberation Sans","fontSize":24,"align":"left","baseline":"alphabetic","color":"#000000"},
"encoding":{"x":{"datum":-22,"type":"quantitative","scale":{"domain":[-38,739],"nice":false,"zero":false},"axis":null},"y":{"datum":6.77,"type":"quantitative","scale":{"domain":[-9,9],"nice":false,"zero":false},"axis":null},"text":{"field":"t"}}}
]}
]
}
